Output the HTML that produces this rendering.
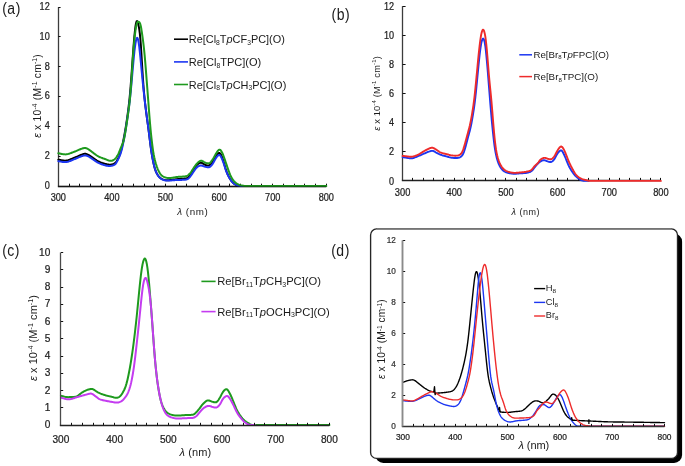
<!DOCTYPE html>
<html><head><meta charset="utf-8"><style>
html,body{margin:0;padding:0;background:#fff;}
body{width:685px;height:466px;overflow:hidden;}
svg{display:block;font-family:"Liberation Sans",sans-serif;will-change:transform;}
</style></head><body>
<svg width="685" height="466" viewBox="0 0 685 466" fill="#1a1a1a">
<text transform="translate(2.20,13.50) scale(1,1.17)" font-size="14" letter-spacing="0.5">(a)</text>
<path d="M58.50,7.20 L58.50,186.50" fill="none" stroke="#3c3c3c" stroke-width="1.3"/>
<path d="M57.85,186.50 L326.30,186.50" fill="none" stroke="#222" stroke-width="1.3"/>
<path d="M58.30,156.50 h2.30" stroke="#111" stroke-width="1"/>
<path d="M58.30,126.50 h2.30" stroke="#111" stroke-width="1"/>
<path d="M58.30,96.50 h2.30" stroke="#111" stroke-width="1"/>
<path d="M58.30,66.50 h2.30" stroke="#111" stroke-width="1"/>
<path d="M58.30,36.50 h2.30" stroke="#111" stroke-width="1"/>
<path d="M58.30,7.50 h2.30" stroke="#111" stroke-width="1"/>
<path d="M69.50,186.00 v-2.30" stroke="#111" stroke-width="1"/>
<path d="M79.50,186.00 v-2.30" stroke="#111" stroke-width="1"/>
<path d="M90.50,186.00 v-2.30" stroke="#111" stroke-width="1"/>
<path d="M101.50,186.00 v-2.30" stroke="#111" stroke-width="1"/>
<path d="M111.50,186.00 v-2.30" stroke="#111" stroke-width="1"/>
<path d="M122.50,186.00 v-2.30" stroke="#111" stroke-width="1"/>
<path d="M133.50,186.00 v-2.30" stroke="#111" stroke-width="1"/>
<path d="M144.50,186.00 v-2.30" stroke="#111" stroke-width="1"/>
<path d="M154.50,186.00 v-2.30" stroke="#111" stroke-width="1"/>
<path d="M165.50,186.00 v-2.30" stroke="#111" stroke-width="1"/>
<path d="M176.50,186.00 v-2.30" stroke="#111" stroke-width="1"/>
<path d="M186.50,186.00 v-2.30" stroke="#111" stroke-width="1"/>
<path d="M197.50,186.00 v-2.30" stroke="#111" stroke-width="1"/>
<path d="M208.50,186.00 v-2.30" stroke="#111" stroke-width="1"/>
<path d="M219.50,186.00 v-2.30" stroke="#111" stroke-width="1"/>
<path d="M229.50,186.00 v-2.30" stroke="#111" stroke-width="1"/>
<path d="M240.50,186.00 v-2.30" stroke="#111" stroke-width="1"/>
<path d="M251.50,186.00 v-2.30" stroke="#111" stroke-width="1"/>
<path d="M261.50,186.00 v-2.30" stroke="#111" stroke-width="1"/>
<path d="M272.50,186.00 v-2.30" stroke="#111" stroke-width="1"/>
<path d="M283.50,186.00 v-2.30" stroke="#111" stroke-width="1"/>
<path d="M294.50,186.00 v-2.30" stroke="#111" stroke-width="1"/>
<path d="M304.50,186.00 v-2.30" stroke="#111" stroke-width="1"/>
<path d="M315.50,186.00 v-2.30" stroke="#111" stroke-width="1"/>
<path d="M326.50,186.00 v-2.30" stroke="#111" stroke-width="1"/>
<text transform="translate(49.70,188.80) scale(1,1.100)" font-size="9.1" text-anchor="end" fill="#222" stroke="#222" stroke-width="0.22">0</text>
<text transform="translate(49.70,159.00) scale(1,1.100)" font-size="9.1" text-anchor="end" fill="#222" stroke="#222" stroke-width="0.22">2</text>
<text transform="translate(49.70,129.20) scale(1,1.100)" font-size="9.1" text-anchor="end" fill="#222" stroke="#222" stroke-width="0.22">4</text>
<text transform="translate(49.70,99.40) scale(1,1.100)" font-size="9.1" text-anchor="end" fill="#222" stroke="#222" stroke-width="0.22">6</text>
<text transform="translate(49.70,69.60) scale(1,1.100)" font-size="9.1" text-anchor="end" fill="#222" stroke="#222" stroke-width="0.22">8</text>
<text transform="translate(49.70,39.80) scale(1,1.100)" font-size="9.1" text-anchor="end" fill="#222" stroke="#222" stroke-width="0.22">10</text>
<text transform="translate(49.70,10.00) scale(1,1.100)" font-size="9.1" text-anchor="end" fill="#222" stroke="#222" stroke-width="0.22">12</text>
<text transform="translate(58.30,200.80) scale(1,1.120)" font-size="9.2" text-anchor="middle" fill="#222" stroke="#222" stroke-width="0.22">300</text>
<text transform="translate(111.90,200.80) scale(1,1.120)" font-size="9.2" text-anchor="middle" fill="#222" stroke="#222" stroke-width="0.22">400</text>
<text transform="translate(165.50,200.80) scale(1,1.120)" font-size="9.2" text-anchor="middle" fill="#222" stroke="#222" stroke-width="0.22">500</text>
<text transform="translate(219.10,200.80) scale(1,1.120)" font-size="9.2" text-anchor="middle" fill="#222" stroke="#222" stroke-width="0.22">600</text>
<text transform="translate(272.70,200.80) scale(1,1.120)" font-size="9.2" text-anchor="middle" fill="#222" stroke="#222" stroke-width="0.22">700</text>
<text transform="translate(326.30,200.80) scale(1,1.120)" font-size="9.2" text-anchor="middle" fill="#222" stroke="#222" stroke-width="0.22">800</text>
<text x="192.45" y="215.20" font-size="9.80" text-anchor="middle" textLength="30.60" lengthAdjust="spacing"><tspan font-style="italic">λ</tspan> (nm)</text>
<text transform="translate(40.70,96.00) rotate(-90)" font-size="10.30" text-anchor="middle" textLength="83.50" lengthAdjust="spacing"><tspan font-style="italic">ε</tspan> x 10<tspan dy="-3.71" font-size="6.70">-4</tspan><tspan dy="3.71"> (M</tspan><tspan dy="-3.71" font-size="6.70">-1</tspan><tspan dy="3.71"> cm</tspan><tspan dy="-3.71" font-size="6.70">-1</tspan><tspan dy="3.71">)</tspan></text>
<path d="M58.30,159.68 L58.84,159.74 L59.37,159.82 L59.91,159.92 L60.44,160.02 L60.98,160.12 L61.52,160.22 L62.05,160.32 L62.59,160.41 L63.12,160.49 L63.66,160.55 L64.20,160.60 L64.73,160.63 L65.27,160.63 L65.80,160.61 L66.34,160.56 L66.88,160.47 L67.41,160.36 L67.95,160.22 L68.48,160.06 L69.02,159.88 L69.56,159.69 L70.09,159.48 L70.63,159.26 L71.16,159.03 L71.70,158.80 L72.24,158.57 L72.77,158.35 L73.31,158.12 L73.84,157.90 L74.38,157.69 L74.92,157.48 L75.45,157.26 L75.99,157.04 L76.52,156.81 L77.06,156.57 L77.60,156.34 L78.13,156.10 L78.67,155.87 L79.20,155.65 L79.74,155.43 L80.28,155.21 L80.81,155.00 L81.35,154.79 L81.88,154.58 L82.42,154.37 L82.96,154.18 L83.49,154.01 L84.03,153.87 L84.56,153.79 L85.10,153.76 L85.64,153.81 L86.17,153.92 L86.71,154.10 L87.24,154.33 L87.78,154.59 L88.32,154.87 L88.85,155.17 L89.39,155.47 L89.92,155.80 L90.46,156.14 L91.00,156.50 L91.53,156.88 L92.07,157.28 L92.60,157.67 L93.14,158.05 L93.68,158.42 L94.21,158.79 L94.75,159.15 L95.28,159.50 L95.82,159.85 L96.36,160.19 L96.89,160.52 L97.43,160.83 L97.96,161.12 L98.50,161.39 L99.04,161.65 L99.57,161.90 L100.11,162.13 L100.64,162.36 L101.18,162.58 L101.72,162.78 L102.25,162.98 L102.79,163.16 L103.32,163.33 L103.86,163.49 L104.40,163.64 L104.93,163.79 L105.47,163.93 L106.00,164.07 L106.54,164.20 L107.08,164.33 L107.61,164.43 L108.15,164.53 L108.68,164.59 L109.22,164.64 L109.76,164.65 L110.29,164.64 L110.83,164.60 L111.36,164.53 L111.90,164.44 L112.44,164.32 L112.97,164.17 L113.51,164.00 L114.04,163.78 L114.58,163.49 L115.12,163.08 L115.65,162.52 L116.19,161.82 L116.72,161.00 L117.26,160.08 L117.80,159.09 L118.33,158.00 L118.87,156.82 L119.40,155.51 L119.94,154.07 L120.48,152.48 L121.01,150.71 L121.55,148.74 L122.08,146.55 L122.62,144.14 L123.16,141.55 L123.69,138.81 L124.23,135.94 L124.76,132.96 L125.30,129.87 L125.84,126.63 L126.37,123.22 L126.91,119.65 L127.44,115.89 L127.98,111.92 L128.52,107.71 L129.05,103.17 L129.59,98.15 L130.12,92.52 L130.66,86.17 L131.20,79.17 L131.73,71.74 L132.27,64.14 L132.80,56.61 L133.34,49.31 L133.88,42.42 L134.41,36.18 L134.95,30.79 L135.48,26.42 L136.02,23.25 L136.56,21.47 L137.09,21.14 L137.63,22.06 L138.16,23.82 L138.70,26.16 L139.24,29.11 L139.77,33.02 L140.31,38.28 L140.84,45.08 L141.38,53.23 L141.92,62.20 L142.45,71.24 L142.99,79.61 L143.52,86.93 L144.06,93.20 L144.60,98.68 L145.13,103.61 L145.67,108.17 L146.20,112.44 L146.74,116.47 L147.28,120.36 L147.81,124.21 L148.35,128.15 L148.88,132.26 L149.42,136.53 L149.96,140.86 L150.49,145.09 L151.03,149.06 L151.56,152.66 L152.10,155.90 L152.64,158.85 L153.17,161.55 L153.71,164.02 L154.24,166.25 L154.78,168.22 L155.32,169.91 L155.85,171.35 L156.39,172.58 L156.92,173.63 L157.46,174.55 L158.00,175.36 L158.53,176.06 L159.07,176.68 L159.60,177.22 L160.14,177.71 L160.68,178.15 L161.21,178.54 L161.75,178.88 L162.28,179.16 L162.82,179.39 L163.36,179.59 L163.89,179.76 L164.43,179.91 L164.96,180.04 L165.50,180.14 L166.04,180.23 L166.57,180.28 L167.11,180.30 L167.64,180.29 L168.18,180.26 L168.72,180.21 L169.25,180.14 L169.79,180.06 L170.32,179.98 L170.86,179.90 L171.40,179.82 L171.93,179.75 L172.47,179.68 L173.00,179.62 L173.54,179.56 L174.08,179.50 L174.61,179.44 L175.15,179.39 L175.68,179.33 L176.22,179.27 L176.76,179.22 L177.29,179.16 L177.83,179.11 L178.36,179.05 L178.90,179.00 L179.44,178.95 L179.97,178.91 L180.51,178.87 L181.04,178.83 L181.58,178.80 L182.12,178.76 L182.65,178.73 L183.19,178.69 L183.72,178.65 L184.26,178.60 L184.80,178.54 L185.33,178.48 L185.87,178.40 L186.40,178.30 L186.94,178.14 L187.48,177.89 L188.01,177.54 L188.55,177.08 L189.08,176.52 L189.62,175.89 L190.16,175.20 L190.69,174.47 L191.23,173.71 L191.76,172.90 L192.30,172.04 L192.84,171.14 L193.37,170.24 L193.91,169.34 L194.44,168.47 L194.98,167.61 L195.52,166.78 L196.05,166.01 L196.59,165.31 L197.12,164.71 L197.66,164.21 L198.20,163.80 L198.73,163.46 L199.27,163.17 L199.80,162.95 L200.34,162.81 L200.88,162.76 L201.41,162.82 L201.95,162.99 L202.48,163.25 L203.02,163.57 L203.56,163.91 L204.09,164.24 L204.63,164.53 L205.16,164.77 L205.70,164.97 L206.24,165.13 L206.77,165.26 L207.31,165.37 L207.84,165.45 L208.38,165.48 L208.92,165.42 L209.45,165.24 L209.99,164.92 L210.52,164.47 L211.06,163.90 L211.60,163.24 L212.13,162.53 L212.67,161.76 L213.20,160.92 L213.74,160.01 L214.28,159.03 L214.81,158.03 L215.35,157.08 L215.88,156.20 L216.42,155.43 L216.96,154.76 L217.49,154.16 L218.03,153.65 L218.56,153.26 L219.10,153.06 L219.64,153.11 L220.17,153.49 L220.71,154.20 L221.24,155.20 L221.78,156.43 L222.32,157.85 L222.85,159.44 L223.39,161.16 L223.92,162.97 L224.46,164.83 L225.00,166.68 L225.53,168.46 L226.07,170.11 L226.60,171.62 L227.14,172.99 L227.68,174.24 L228.21,175.40 L228.75,176.47 L229.28,177.46 L229.82,178.39 L230.36,179.25 L230.89,180.05 L231.43,180.79 L231.96,181.47 L232.50,182.09 L233.04,182.67 L233.57,183.20 L234.11,183.68 L234.64,184.09 L235.18,184.45 L235.72,184.75 L236.25,185.03 L236.79,185.27 L237.32,185.49 L237.86,185.67 L238.40,185.81 L238.93,185.90 L239.47,185.96 L240.00,185.99 L240.54,186.00 L241.08,186.00 L241.61,186.00 L242.15,186.00 L242.68,186.00 L243.22,186.00 L243.76,186.00 L244.29,186.00 L244.83,186.00 L245.36,186.00 L245.90,186.00 L246.44,186.00 L246.97,186.00 L247.51,186.00 L248.04,186.00 L248.58,186.00 L249.12,186.00 L249.65,186.00 L250.19,186.00 L250.72,186.00 L251.26,186.00" fill="none" stroke="#000000" stroke-width="2.0" stroke-linejoin="round" stroke-linecap="round"/>
<path d="M58.30,161.17 L58.84,161.23 L59.37,161.31 L59.91,161.41 L60.44,161.51 L60.98,161.61 L61.52,161.71 L62.05,161.81 L62.59,161.90 L63.12,161.98 L63.66,162.04 L64.20,162.09 L64.73,162.12 L65.27,162.12 L65.80,162.10 L66.34,162.05 L66.88,161.96 L67.41,161.85 L67.95,161.71 L68.48,161.55 L69.02,161.37 L69.56,161.18 L70.09,160.97 L70.63,160.75 L71.16,160.52 L71.70,160.29 L72.24,160.06 L72.77,159.84 L73.31,159.61 L73.84,159.39 L74.38,159.18 L74.92,158.96 L75.45,158.74 L75.99,158.52 L76.52,158.28 L77.06,158.05 L77.60,157.81 L78.13,157.57 L78.67,157.34 L79.20,157.12 L79.74,156.90 L80.28,156.70 L80.81,156.50 L81.35,156.31 L81.88,156.11 L82.42,155.93 L82.96,155.75 L83.49,155.60 L84.03,155.48 L84.56,155.41 L85.10,155.39 L85.64,155.43 L86.17,155.54 L86.71,155.70 L87.24,155.90 L87.78,156.14 L88.32,156.40 L88.85,156.68 L89.39,156.97 L89.92,157.28 L90.46,157.62 L91.00,157.98 L91.53,158.36 L92.07,158.76 L92.60,159.15 L93.14,159.54 L93.68,159.91 L94.21,160.28 L94.75,160.64 L95.28,160.99 L95.82,161.34 L96.36,161.68 L96.89,162.01 L97.43,162.32 L97.96,162.61 L98.50,162.88 L99.04,163.14 L99.57,163.39 L100.11,163.63 L100.64,163.85 L101.18,164.07 L101.72,164.28 L102.25,164.47 L102.79,164.66 L103.32,164.83 L103.86,164.98 L104.40,165.13 L104.93,165.27 L105.47,165.41 L106.00,165.54 L106.54,165.66 L107.08,165.77 L107.61,165.86 L108.15,165.93 L108.68,165.98 L109.22,166.00 L109.76,165.99 L110.29,165.95 L110.83,165.88 L111.36,165.80 L111.90,165.68 L112.44,165.55 L112.97,165.38 L113.51,165.20 L114.04,164.97 L114.58,164.69 L115.12,164.29 L115.65,163.73 L116.19,162.98 L116.72,162.06 L117.26,161.03 L117.80,159.94 L118.33,158.84 L118.87,157.71 L119.40,156.52 L119.94,155.22 L120.48,153.79 L121.01,152.16 L121.55,150.31 L122.08,148.22 L122.62,145.89 L123.16,143.36 L123.69,140.66 L124.23,137.83 L124.76,134.87 L125.30,131.76 L125.84,128.49 L126.37,125.07 L126.91,121.51 L127.44,117.86 L127.98,114.13 L128.52,110.30 L129.05,106.31 L129.59,102.02 L130.12,97.32 L130.66,92.13 L131.20,86.49 L131.73,80.54 L132.27,74.44 L132.80,68.33 L133.34,62.35 L133.88,56.65 L134.41,51.47 L134.95,47.01 L135.48,43.32 L136.02,40.45 L136.56,38.53 L137.09,37.74 L137.63,38.21 L138.16,39.93 L138.70,42.79 L139.24,46.68 L139.77,51.40 L140.31,56.69 L140.84,62.26 L141.38,67.91 L141.92,73.52 L142.45,79.03 L142.99,84.38 L143.52,89.54 L144.06,94.51 L144.60,99.28 L145.13,103.85 L145.67,108.22 L146.20,112.38 L146.74,116.37 L147.28,120.25 L147.81,124.13 L148.35,128.11 L148.88,132.24 L149.42,136.52 L149.96,140.86 L150.49,145.09 L151.03,149.05 L151.56,152.65 L152.10,155.89 L152.64,158.83 L153.17,161.52 L153.71,163.98 L154.24,166.21 L154.78,168.19 L155.32,169.91 L155.85,171.38 L156.39,172.66 L156.92,173.76 L157.46,174.73 L158.00,175.58 L158.53,176.32 L159.07,176.96 L159.60,177.52 L160.14,178.02 L160.68,178.46 L161.21,178.84 L161.75,179.18 L162.28,179.46 L162.82,179.69 L163.36,179.89 L163.89,180.06 L164.43,180.21 L164.96,180.34 L165.50,180.44 L166.04,180.52 L166.57,180.58 L167.11,180.61 L167.64,180.61 L168.18,180.60 L168.72,180.57 L169.25,180.54 L169.79,180.50 L170.32,180.46 L170.86,180.42 L171.40,180.38 L171.93,180.34 L172.47,180.30 L173.00,180.26 L173.54,180.22 L174.08,180.18 L174.61,180.14 L175.15,180.10 L175.68,180.07 L176.22,180.05 L176.76,180.03 L177.29,180.01 L177.83,179.99 L178.36,179.98 L178.90,179.97 L179.44,179.95 L179.97,179.94 L180.51,179.93 L181.04,179.91 L181.58,179.89 L182.12,179.86 L182.65,179.84 L183.19,179.81 L183.72,179.78 L184.26,179.74 L184.80,179.69 L185.33,179.64 L185.87,179.57 L186.40,179.48 L186.94,179.33 L187.48,179.11 L188.01,178.79 L188.55,178.36 L189.08,177.84 L189.62,177.24 L190.16,176.60 L190.69,175.92 L191.23,175.20 L191.76,174.44 L192.30,173.63 L192.84,172.79 L193.37,171.96 L193.91,171.15 L194.44,170.37 L194.98,169.62 L195.52,168.91 L196.05,168.24 L196.59,167.65 L197.12,167.15 L197.66,166.73 L198.20,166.39 L198.73,166.11 L199.27,165.87 L199.80,165.70 L200.34,165.58 L200.88,165.54 L201.41,165.58 L201.95,165.68 L202.48,165.83 L203.02,166.01 L203.56,166.22 L204.09,166.41 L204.63,166.59 L205.16,166.75 L205.70,166.88 L206.24,167.00 L206.77,167.11 L207.31,167.20 L207.84,167.26 L208.38,167.28 L208.92,167.22 L209.45,167.06 L209.99,166.78 L210.52,166.36 L211.06,165.84 L211.60,165.23 L212.13,164.56 L212.67,163.83 L213.20,163.00 L213.74,162.09 L214.28,161.09 L214.81,160.07 L215.35,159.08 L215.88,158.18 L216.42,157.37 L216.96,156.66 L217.49,156.04 L218.03,155.50 L218.56,155.09 L219.10,154.89 L219.64,154.97 L220.17,155.42 L220.71,156.20 L221.24,157.25 L221.78,158.44 L222.32,159.71 L222.85,161.05 L223.39,162.50 L223.92,164.07 L224.46,165.77 L225.00,167.52 L225.53,169.23 L226.07,170.81 L226.60,172.22 L227.14,173.48 L227.68,174.62 L228.21,175.68 L228.75,176.69 L229.28,177.66 L229.82,178.59 L230.36,179.48 L230.89,180.30 L231.43,181.06 L231.96,181.73 L232.50,182.33 L233.04,182.87 L233.57,183.35 L234.11,183.77 L234.64,184.14 L235.18,184.45 L235.72,184.71 L236.25,184.93 L236.79,185.13 L237.32,185.30 L237.86,185.45 L238.40,185.58 L238.93,185.68 L239.47,185.77 L240.00,185.85 L240.54,185.91 L241.08,185.95 L241.61,185.98 L242.15,185.99 L242.68,186.00 L243.22,186.00 L243.76,186.00 L244.29,186.00 L244.83,186.00 L245.36,186.00 L245.90,186.00 L246.44,186.00 L246.97,186.00 L247.51,186.00 L248.04,186.00 L248.58,186.00 L249.12,186.00 L249.65,186.00 L250.19,186.00 L250.72,186.00 L251.26,186.00" fill="none" stroke="#1c36f2" stroke-width="2.0" stroke-linejoin="round" stroke-linecap="round"/>
<path d="M58.30,153.29 L58.84,153.35 L59.37,153.44 L59.91,153.55 L60.44,153.67 L60.98,153.78 L61.52,153.90 L62.05,154.01 L62.59,154.11 L63.12,154.20 L63.66,154.28 L64.20,154.33 L64.73,154.37 L65.27,154.38 L65.80,154.36 L66.34,154.31 L66.88,154.24 L67.41,154.14 L67.95,154.02 L68.48,153.88 L69.02,153.72 L69.56,153.55 L70.09,153.36 L70.63,153.16 L71.16,152.96 L71.70,152.75 L72.24,152.54 L72.77,152.34 L73.31,152.13 L73.84,151.93 L74.38,151.73 L74.92,151.52 L75.45,151.31 L75.99,151.08 L76.52,150.85 L77.06,150.61 L77.60,150.37 L78.13,150.14 L78.67,149.90 L79.20,149.67 L79.74,149.46 L80.28,149.25 L80.81,149.05 L81.35,148.86 L81.88,148.67 L82.42,148.48 L82.96,148.30 L83.49,148.15 L84.03,148.04 L84.56,147.97 L85.10,147.96 L85.64,148.02 L86.17,148.16 L86.71,148.37 L87.24,148.63 L87.78,148.94 L88.32,149.26 L88.85,149.61 L89.39,149.96 L89.92,150.32 L90.46,150.70 L91.00,151.10 L91.53,151.52 L92.07,151.95 L92.60,152.38 L93.14,152.80 L93.68,153.21 L94.21,153.61 L94.75,154.01 L95.28,154.40 L95.82,154.79 L96.36,155.16 L96.89,155.52 L97.43,155.86 L97.96,156.18 L98.50,156.47 L99.04,156.74 L99.57,156.98 L100.11,157.22 L100.64,157.44 L101.18,157.65 L101.72,157.86 L102.25,158.05 L102.79,158.25 L103.32,158.43 L103.86,158.62 L104.40,158.81 L104.93,159.00 L105.47,159.20 L106.00,159.40 L106.54,159.62 L107.08,159.85 L107.61,160.07 L108.15,160.29 L108.68,160.48 L109.22,160.65 L109.76,160.78 L110.29,160.86 L110.83,160.87 L111.36,160.82 L111.90,160.70 L112.44,160.51 L112.97,160.27 L113.51,159.96 L114.04,159.62 L114.58,159.22 L115.12,158.76 L115.65,158.20 L116.19,157.54 L116.72,156.76 L117.26,155.87 L117.80,154.89 L118.33,153.82 L118.87,152.65 L119.40,151.38 L119.94,150.05 L120.48,148.70 L121.01,147.40 L121.55,146.16 L122.08,144.93 L122.62,143.63 L123.16,142.12 L123.69,140.29 L124.23,138.05 L124.76,135.37 L125.30,132.32 L125.84,129.02 L126.37,125.55 L126.91,122.01 L127.44,118.39 L127.98,114.65 L128.52,110.72 L129.05,106.52 L129.59,101.91 L130.12,96.74 L130.66,90.74 L131.20,83.72 L131.73,75.73 L132.27,67.25 L132.80,58.99 L133.34,51.53 L133.88,45.07 L134.41,39.49 L134.95,34.64 L135.48,30.45 L136.02,26.99 L136.56,24.41 L137.09,22.76 L137.63,21.96 L138.16,21.74 L138.70,21.84 L139.24,22.15 L139.77,22.81 L140.31,24.12 L140.84,26.30 L141.38,29.29 L141.92,32.77 L142.45,36.49 L142.99,40.39 L143.52,44.62 L144.06,49.37 L144.60,54.79 L145.13,60.85 L145.67,67.40 L146.20,74.20 L146.74,81.08 L147.28,88.01 L147.81,94.99 L148.35,102.04 L148.88,109.12 L149.42,116.06 L149.96,122.64 L150.49,128.66 L151.03,134.07 L151.56,138.96 L152.10,143.47 L152.64,147.61 L153.17,151.32 L153.71,154.53 L154.24,157.25 L154.78,159.59 L155.32,161.64 L155.85,163.50 L156.39,165.22 L156.92,166.80 L157.46,168.26 L158.00,169.58 L158.53,170.76 L159.07,171.81 L159.60,172.74 L160.14,173.58 L160.68,174.31 L161.21,174.93 L161.75,175.45 L162.28,175.89 L162.82,176.26 L163.36,176.58 L163.89,176.86 L164.43,177.10 L164.96,177.30 L165.50,177.48 L166.04,177.63 L166.57,177.77 L167.11,177.88 L167.64,177.97 L168.18,178.03 L168.72,178.06 L169.25,178.06 L169.79,178.04 L170.32,177.99 L170.86,177.94 L171.40,177.87 L171.93,177.80 L172.47,177.73 L173.00,177.65 L173.54,177.56 L174.08,177.47 L174.61,177.37 L175.15,177.26 L175.68,177.16 L176.22,177.07 L176.76,176.99 L177.29,176.93 L177.83,176.88 L178.36,176.84 L178.90,176.81 L179.44,176.78 L179.97,176.76 L180.51,176.73 L181.04,176.71 L181.58,176.68 L182.12,176.64 L182.65,176.61 L183.19,176.57 L183.72,176.52 L184.26,176.47 L184.80,176.40 L185.33,176.33 L185.87,176.23 L186.40,176.08 L186.94,175.88 L187.48,175.61 L188.01,175.25 L188.55,174.83 L189.08,174.36 L189.62,173.82 L190.16,173.23 L190.69,172.56 L191.23,171.81 L191.76,171.00 L192.30,170.15 L192.84,169.29 L193.37,168.46 L193.91,167.64 L194.44,166.85 L194.98,166.07 L195.52,165.33 L196.05,164.63 L196.59,163.99 L197.12,163.41 L197.66,162.86 L198.20,162.35 L198.73,161.88 L199.27,161.46 L199.80,161.11 L200.34,160.86 L200.88,160.72 L201.41,160.72 L201.95,160.84 L202.48,161.06 L203.02,161.35 L203.56,161.68 L204.09,162.00 L204.63,162.30 L205.16,162.55 L205.70,162.76 L206.24,162.94 L206.77,163.10 L207.31,163.24 L207.84,163.33 L208.38,163.37 L208.92,163.31 L209.45,163.12 L209.99,162.78 L210.52,162.28 L211.06,161.66 L211.60,160.96 L212.13,160.21 L212.67,159.41 L213.20,158.57 L213.74,157.67 L214.28,156.71 L214.81,155.73 L215.35,154.77 L215.88,153.84 L216.42,152.97 L216.96,152.14 L217.49,151.37 L218.03,150.66 L218.56,150.10 L219.10,149.74 L219.64,149.64 L220.17,149.84 L220.71,150.32 L221.24,151.03 L221.78,151.93 L222.32,153.00 L222.85,154.22 L223.39,155.58 L223.92,157.03 L224.46,158.55 L225.00,160.12 L225.53,161.72 L226.07,163.33 L226.60,164.93 L227.14,166.51 L227.68,168.06 L228.21,169.57 L228.75,171.03 L229.28,172.44 L229.82,173.78 L230.36,175.05 L230.89,176.21 L231.43,177.26 L231.96,178.21 L232.50,179.06 L233.04,179.83 L233.57,180.53 L234.11,181.16 L234.64,181.73 L235.18,182.25 L235.72,182.72 L236.25,183.15 L236.79,183.53 L237.32,183.87 L237.86,184.17 L238.40,184.43 L238.93,184.68 L239.47,184.89 L240.00,185.08 L240.54,185.24 L241.08,185.38 L241.61,185.49 L242.15,185.59 L242.68,185.69 L243.22,185.77 L243.76,185.84 L244.29,185.90 L244.83,185.94 L245.36,185.97 L245.90,185.99 L246.44,186.00 L246.97,186.00 L247.51,186.00 L248.04,186.00 L248.58,186.00 L249.12,186.00 L249.65,186.00 L250.19,186.00 L250.72,186.00 L251.26,186.00 L251.80,186.00 L252.33,186.00 L252.87,186.00 L253.40,186.00 L253.94,186.00 L254.48,186.00 L255.01,186.00 L255.55,186.00 L256.08,186.00 L256.62,186.00 L257.16,186.00 L257.69,186.00 L258.23,186.00 L258.76,186.00 L259.30,186.00 L259.84,186.00 L260.37,186.00 L260.91,186.00 L261.44,186.00 L261.98,186.00 L262.52,186.00 L263.05,186.00 L263.59,186.00 L264.12,186.00 L264.66,186.00 L265.20,186.00 L265.73,186.00 L266.27,186.00 L266.80,186.00 L267.34,186.00 L267.88,186.00 L268.41,186.00 L268.95,186.00 L269.48,186.00 L270.02,186.00 L270.56,186.00 L271.09,186.00 L271.63,186.00 L272.16,186.00 L272.70,186.00 L273.24,186.00 L273.77,186.00 L274.31,186.00 L274.84,186.00 L275.38,186.00 L275.92,186.00 L276.45,186.00 L276.99,186.00 L277.52,186.00 L278.06,186.00 L278.60,186.00 L279.13,186.00 L279.67,186.00 L280.20,186.00 L280.74,186.00 L281.28,186.00 L281.81,186.00 L282.35,186.00 L282.88,186.00 L283.42,186.00 L283.96,186.00 L284.49,186.00 L285.03,186.00 L285.56,186.00 L286.10,186.00 L286.64,186.00 L287.17,186.00 L287.71,186.00 L288.24,186.00 L288.78,186.00 L289.32,186.00 L289.85,186.00 L290.39,186.00 L290.92,186.00 L291.46,186.00 L292.00,186.00 L292.53,186.00 L293.07,186.00 L293.60,186.00 L294.14,186.00 L294.68,186.00 L295.21,186.00 L295.75,186.00 L296.28,186.00 L296.82,186.00 L297.36,186.00 L297.89,186.00 L298.43,186.00 L298.96,186.00 L299.50,186.00 L300.04,186.00 L300.57,186.00 L301.11,186.00 L301.64,186.00 L302.18,186.00 L302.72,186.00 L303.25,186.00 L303.79,186.00 L304.32,186.00 L304.86,186.00 L305.40,186.00 L305.93,186.00 L306.47,186.00 L307.00,186.00 L307.54,186.00 L308.08,186.00 L308.61,186.00 L309.15,186.00 L309.68,186.00 L310.22,186.00 L310.76,186.00 L311.29,186.00 L311.83,186.00 L312.36,186.00 L312.90,186.00 L313.44,186.00 L313.97,186.00 L314.51,186.00 L315.04,186.00 L315.58,186.00 L316.12,186.00 L316.65,186.00 L317.19,186.00 L317.72,186.00 L318.26,186.00 L318.80,186.00 L319.33,186.00 L319.87,186.00 L320.40,186.00 L320.94,186.00 L321.48,186.00 L322.01,186.00 L322.55,186.00 L323.08,186.00 L323.62,186.00 L324.16,186.00 L324.69,186.00 L325.23,186.00 L325.76,186.00 L326.30,186.00" fill="none" stroke="#1e9a1e" stroke-width="2.0" stroke-linejoin="round" stroke-linecap="round"/>
<path d="M58.30,186.50 H326.30" stroke="rgba(0,0,0,0.35)" stroke-width="1.3"/>
<path d="M174.0,39.20 H188.0" stroke="#000000" stroke-width="1.6"/><text x="188.8" y="42.90" font-size="10.3" textLength="96.10" lengthAdjust="spacingAndGlyphs"><tspan>Re[Cl</tspan><tspan font-size="6.39" dy="1.85">8</tspan><tspan dy="-1.85">T</tspan><tspan font-style="italic">p</tspan><tspan>CF</tspan><tspan font-size="6.39" dy="1.85">3</tspan><tspan dy="-1.85">PC](O)</tspan></text>
<path d="M174.0,61.90 H188.0" stroke="#1c36f2" stroke-width="1.6"/><text x="188.8" y="65.80" font-size="10.3" textLength="72.50" lengthAdjust="spacingAndGlyphs"><tspan>Re[Cl</tspan><tspan font-size="6.39" dy="1.85">8</tspan><tspan dy="-1.85">TPC](O)</tspan></text>
<path d="M174.0,84.50 H188.0" stroke="#1e9a1e" stroke-width="1.6"/><text x="188.8" y="88.60" font-size="10.3" textLength="97.50" lengthAdjust="spacingAndGlyphs"><tspan>Re[Cl</tspan><tspan font-size="6.39" dy="1.85">8</tspan><tspan dy="-1.85">T</tspan><tspan font-style="italic">p</tspan><tspan>CH</tspan><tspan font-size="6.39" dy="1.85">3</tspan><tspan dy="-1.85">PC](O)</tspan></text>
<text transform="translate(331.60,20.00) scale(1,1.17)" font-size="14" letter-spacing="0.5">(b)</text>
<path d="M402.50,6.20 L402.50,180.50" fill="none" stroke="#3c3c3c" stroke-width="1.3"/>
<path d="M401.85,180.50 L660.90,180.50" fill="none" stroke="#222" stroke-width="1.3"/>
<path d="M402.60,151.50 h3.00" stroke="#111" stroke-width="1"/>
<path d="M402.60,122.50 h3.00" stroke="#111" stroke-width="1"/>
<path d="M402.60,93.50 h3.00" stroke="#111" stroke-width="1"/>
<path d="M402.60,64.50 h3.00" stroke="#111" stroke-width="1"/>
<path d="M402.60,35.50 h3.00" stroke="#111" stroke-width="1"/>
<path d="M402.60,6.50 h3.00" stroke="#111" stroke-width="1"/>
<path d="M412.50,180.90 v-3.00" stroke="#111" stroke-width="1"/>
<path d="M423.50,180.90 v-3.00" stroke="#111" stroke-width="1"/>
<path d="M433.50,180.90 v-3.00" stroke="#111" stroke-width="1"/>
<path d="M443.50,180.90 v-3.00" stroke="#111" stroke-width="1"/>
<path d="M454.50,180.90 v-3.00" stroke="#111" stroke-width="1"/>
<path d="M464.50,180.90 v-3.00" stroke="#111" stroke-width="1"/>
<path d="M474.50,180.90 v-3.00" stroke="#111" stroke-width="1"/>
<path d="M485.50,180.90 v-3.00" stroke="#111" stroke-width="1"/>
<path d="M495.50,180.90 v-3.00" stroke="#111" stroke-width="1"/>
<path d="M505.50,180.90 v-3.00" stroke="#111" stroke-width="1"/>
<path d="M516.50,180.90 v-3.00" stroke="#111" stroke-width="1"/>
<path d="M526.50,180.90 v-3.00" stroke="#111" stroke-width="1"/>
<path d="M536.50,180.90 v-3.00" stroke="#111" stroke-width="1"/>
<path d="M547.50,180.90 v-3.00" stroke="#111" stroke-width="1"/>
<path d="M557.50,180.90 v-3.00" stroke="#111" stroke-width="1"/>
<path d="M567.50,180.90 v-3.00" stroke="#111" stroke-width="1"/>
<path d="M578.50,180.90 v-3.00" stroke="#111" stroke-width="1"/>
<path d="M588.50,180.90 v-3.00" stroke="#111" stroke-width="1"/>
<path d="M598.50,180.90 v-3.00" stroke="#111" stroke-width="1"/>
<path d="M609.50,180.90 v-3.00" stroke="#111" stroke-width="1"/>
<path d="M619.50,180.90 v-3.00" stroke="#111" stroke-width="1"/>
<path d="M629.50,180.90 v-3.00" stroke="#111" stroke-width="1"/>
<path d="M640.50,180.90 v-3.00" stroke="#111" stroke-width="1"/>
<path d="M650.50,180.90 v-3.00" stroke="#111" stroke-width="1"/>
<path d="M660.50,180.90 v-3.00" stroke="#111" stroke-width="1"/>
<text transform="translate(394.10,184.60) scale(1,1.100)" font-size="9.1" text-anchor="end" fill="#222" stroke="#222" stroke-width="0.22">0</text>
<text transform="translate(394.10,155.48) scale(1,1.100)" font-size="9.1" text-anchor="end" fill="#222" stroke="#222" stroke-width="0.22">2</text>
<text transform="translate(394.10,126.37) scale(1,1.100)" font-size="9.1" text-anchor="end" fill="#222" stroke="#222" stroke-width="0.22">4</text>
<text transform="translate(394.10,97.25) scale(1,1.100)" font-size="9.1" text-anchor="end" fill="#222" stroke="#222" stroke-width="0.22">6</text>
<text transform="translate(394.10,68.13) scale(1,1.100)" font-size="9.1" text-anchor="end" fill="#222" stroke="#222" stroke-width="0.22">8</text>
<text transform="translate(394.10,39.02) scale(1,1.100)" font-size="9.1" text-anchor="end" fill="#222" stroke="#222" stroke-width="0.22">10</text>
<text transform="translate(394.10,9.90) scale(1,1.100)" font-size="9.1" text-anchor="end" fill="#222" stroke="#222" stroke-width="0.22">12</text>
<text transform="translate(402.60,195.70) scale(1,1.100)" font-size="9.3" text-anchor="middle" fill="#222" stroke="#222" stroke-width="0.22">300</text>
<text transform="translate(454.26,195.70) scale(1,1.100)" font-size="9.3" text-anchor="middle" fill="#222" stroke="#222" stroke-width="0.22">400</text>
<text transform="translate(505.92,195.70) scale(1,1.100)" font-size="9.3" text-anchor="middle" fill="#222" stroke="#222" stroke-width="0.22">500</text>
<text transform="translate(557.58,195.70) scale(1,1.100)" font-size="9.3" text-anchor="middle" fill="#222" stroke="#222" stroke-width="0.22">600</text>
<text transform="translate(609.24,195.70) scale(1,1.100)" font-size="9.3" text-anchor="middle" fill="#222" stroke="#222" stroke-width="0.22">700</text>
<text transform="translate(660.90,195.70) scale(1,1.100)" font-size="9.3" text-anchor="middle" fill="#222" stroke="#222" stroke-width="0.22">800</text>
<text x="525.50" y="214.60" font-size="9.00" text-anchor="middle" textLength="28.10" lengthAdjust="spacing"><tspan font-style="italic">λ</tspan> (nm)</text>
<text transform="translate(379.50,93.50) rotate(-90)" font-size="9.30" text-anchor="middle" textLength="74.70" lengthAdjust="spacing"><tspan font-style="italic">ε</tspan> x 10<tspan dy="-3.35" font-size="6.05">-4</tspan><tspan dy="3.35"> (M</tspan><tspan dy="-3.35" font-size="6.05">-1</tspan><tspan dy="3.35"> cm</tspan><tspan dy="-3.35" font-size="6.05">-1</tspan><tspan dy="3.35">)</tspan></text>
<path d="M402.60,157.22 L403.12,157.27 L403.63,157.33 L404.15,157.41 L404.67,157.50 L405.18,157.58 L405.70,157.67 L406.22,157.76 L406.73,157.85 L407.25,157.93 L407.77,158.01 L408.28,158.09 L408.80,158.15 L409.32,158.21 L409.83,158.25 L410.35,158.29 L410.87,158.30 L411.38,158.30 L411.90,158.26 L412.42,158.20 L412.93,158.10 L413.45,157.97 L413.97,157.81 L414.48,157.63 L415.00,157.43 L415.52,157.22 L416.03,157.01 L416.55,156.79 L417.06,156.57 L417.58,156.36 L418.10,156.15 L418.61,155.95 L419.13,155.74 L419.65,155.53 L420.16,155.31 L420.68,155.09 L421.20,154.87 L421.71,154.64 L422.23,154.41 L422.75,154.19 L423.26,153.96 L423.78,153.74 L424.30,153.51 L424.81,153.27 L425.33,153.04 L425.85,152.81 L426.36,152.58 L426.88,152.37 L427.40,152.16 L427.91,151.97 L428.43,151.79 L428.95,151.62 L429.46,151.45 L429.98,151.29 L430.50,151.14 L431.01,151.01 L431.53,150.92 L432.05,150.86 L432.56,150.87 L433.08,150.95 L433.60,151.12 L434.11,151.36 L434.63,151.65 L435.15,151.97 L435.66,152.30 L436.18,152.62 L436.70,152.91 L437.21,153.18 L437.73,153.44 L438.25,153.68 L438.76,153.92 L439.28,154.15 L439.80,154.37 L440.31,154.58 L440.83,154.78 L441.35,154.97 L441.86,155.15 L442.38,155.31 L442.89,155.47 L443.41,155.62 L443.93,155.76 L444.44,155.90 L444.96,156.04 L445.48,156.18 L445.99,156.31 L446.51,156.45 L447.03,156.59 L447.54,156.73 L448.06,156.88 L448.58,157.02 L449.09,157.17 L449.61,157.31 L450.13,157.44 L450.64,157.56 L451.16,157.67 L451.68,157.76 L452.19,157.83 L452.71,157.88 L453.23,157.92 L453.74,157.96 L454.26,157.98 L454.78,158.00 L455.29,158.02 L455.81,158.03 L456.33,158.02 L456.84,158.00 L457.36,157.96 L457.88,157.90 L458.39,157.81 L458.91,157.69 L459.43,157.52 L459.94,157.29 L460.46,157.00 L460.98,156.64 L461.49,156.19 L462.01,155.64 L462.53,154.94 L463.04,154.05 L463.56,152.92 L464.08,151.57 L464.59,150.01 L465.11,148.31 L465.63,146.49 L466.14,144.57 L466.66,142.59 L467.18,140.57 L467.69,138.57 L468.21,136.61 L468.72,134.70 L469.24,132.81 L469.76,130.89 L470.27,128.85 L470.79,126.62 L471.31,124.13 L471.82,121.38 L472.34,118.43 L472.86,115.33 L473.37,112.12 L473.89,108.74 L474.41,105.12 L474.92,101.13 L475.44,96.70 L475.96,91.84 L476.47,86.68 L476.99,81.36 L477.51,76.00 L478.02,70.65 L478.54,65.36 L479.06,60.24 L479.57,55.44 L480.09,51.10 L480.61,47.30 L481.12,44.12 L481.64,41.63 L482.16,39.87 L482.67,38.85 L483.19,38.59 L483.71,39.10 L484.22,40.42 L484.74,42.60 L485.26,45.73 L485.77,49.84 L486.29,54.80 L486.81,60.34 L487.32,66.27 L487.84,72.45 L488.36,78.83 L488.87,85.36 L489.39,91.94 L489.91,98.47 L490.42,104.84 L490.94,110.99 L491.46,116.89 L491.97,122.54 L492.49,127.91 L493.00,132.97 L493.52,137.71 L494.04,142.09 L494.55,146.06 L495.07,149.56 L495.59,152.57 L496.10,155.15 L496.62,157.38 L497.14,159.31 L497.65,161.00 L498.17,162.48 L498.69,163.77 L499.20,164.92 L499.72,165.96 L500.24,166.90 L500.75,167.74 L501.27,168.49 L501.79,169.15 L502.30,169.74 L502.82,170.25 L503.34,170.71 L503.85,171.12 L504.37,171.47 L504.89,171.77 L505.40,172.02 L505.92,172.25 L506.44,172.45 L506.95,172.62 L507.47,172.77 L507.99,172.91 L508.50,173.02 L509.02,173.13 L509.54,173.23 L510.05,173.32 L510.57,173.41 L511.09,173.49 L511.60,173.56 L512.12,173.62 L512.64,173.68 L513.15,173.71 L513.67,173.74 L514.19,173.75 L514.70,173.75 L515.22,173.73 L515.74,173.71 L516.25,173.68 L516.77,173.64 L517.29,173.60 L517.80,173.55 L518.32,173.51 L518.84,173.46 L519.35,173.42 L519.87,173.37 L520.38,173.33 L520.90,173.30 L521.42,173.27 L521.93,173.24 L522.45,173.21 L522.97,173.18 L523.48,173.15 L524.00,173.11 L524.52,173.08 L525.03,173.04 L525.55,172.99 L526.07,172.94 L526.58,172.87 L527.10,172.79 L527.62,172.68 L528.13,172.55 L528.65,172.40 L529.17,172.22 L529.68,172.02 L530.20,171.79 L530.72,171.53 L531.23,171.23 L531.75,170.87 L532.27,170.41 L532.78,169.85 L533.30,169.21 L533.82,168.51 L534.33,167.81 L534.85,167.11 L535.37,166.44 L535.88,165.79 L536.40,165.17 L536.92,164.57 L537.43,164.01 L537.95,163.48 L538.47,163.00 L538.98,162.56 L539.50,162.15 L540.02,161.77 L540.53,161.44 L541.05,161.13 L541.57,160.86 L542.08,160.62 L542.60,160.42 L543.12,160.28 L543.63,160.21 L544.15,160.22 L544.66,160.30 L545.18,160.45 L545.70,160.64 L546.21,160.84 L546.73,161.04 L547.25,161.23 L547.76,161.40 L548.28,161.56 L548.80,161.72 L549.31,161.85 L549.83,161.95 L550.35,162.00 L550.86,161.97 L551.38,161.83 L551.90,161.59 L552.41,161.23 L552.93,160.78 L553.45,160.25 L553.96,159.63 L554.48,158.89 L555.00,158.03 L555.51,157.06 L556.03,156.06 L556.55,155.07 L557.06,154.17 L557.58,153.38 L558.10,152.68 L558.61,152.06 L559.13,151.50 L559.65,151.02 L560.16,150.65 L560.68,150.43 L561.20,150.42 L561.71,150.68 L562.23,151.23 L562.75,152.01 L563.26,152.96 L563.78,154.01 L564.30,155.12 L564.81,156.28 L565.33,157.50 L565.85,158.76 L566.36,160.04 L566.88,161.32 L567.40,162.61 L567.91,163.87 L568.43,165.08 L568.95,166.19 L569.46,167.21 L569.98,168.15 L570.50,169.03 L571.01,169.86 L571.53,170.66 L572.04,171.45 L572.56,172.23 L573.08,172.98 L573.59,173.71 L574.11,174.38 L574.63,175.01 L575.14,175.58 L575.66,176.11 L576.18,176.61 L576.69,177.07 L577.21,177.50 L577.73,177.91 L578.24,178.30 L578.76,178.66 L579.28,179.00 L579.79,179.31 L580.31,179.60 L580.83,179.86 L581.34,180.10 L581.86,180.32 L582.38,180.51 L582.89,180.67 L583.41,180.78 L583.93,180.85 L584.44,180.88 L584.96,180.90 L585.48,180.90 L585.99,180.90 L586.51,180.90 L587.03,180.90 L587.54,180.90 L588.06,180.90 L588.58,180.90" fill="none" stroke="#1c36f2" stroke-width="1.9" stroke-linejoin="round" stroke-linecap="round"/>
<path d="M402.60,155.90 L403.12,155.93 L403.63,155.98 L404.15,156.04 L404.67,156.10 L405.18,156.17 L405.70,156.24 L406.22,156.30 L406.73,156.37 L407.25,156.43 L407.77,156.49 L408.28,156.55 L408.80,156.60 L409.32,156.64 L409.83,156.67 L410.35,156.70 L410.87,156.71 L411.38,156.70 L411.90,156.67 L412.42,156.62 L412.93,156.53 L413.45,156.42 L413.97,156.28 L414.48,156.12 L415.00,155.95 L415.52,155.75 L416.03,155.55 L416.55,155.34 L417.06,155.13 L417.58,154.90 L418.10,154.67 L418.61,154.43 L419.13,154.16 L419.65,153.86 L420.16,153.55 L420.68,153.23 L421.20,152.90 L421.71,152.57 L422.23,152.25 L422.75,151.94 L423.26,151.64 L423.78,151.34 L424.30,151.04 L424.81,150.74 L425.33,150.45 L425.85,150.17 L426.36,149.89 L426.88,149.62 L427.40,149.36 L427.91,149.11 L428.43,148.87 L428.95,148.63 L429.46,148.39 L429.98,148.17 L430.50,147.97 L431.01,147.81 L431.53,147.71 L432.05,147.68 L432.56,147.73 L433.08,147.87 L433.60,148.07 L434.11,148.33 L434.63,148.63 L435.15,148.95 L435.66,149.28 L436.18,149.61 L436.70,149.95 L437.21,150.31 L437.73,150.68 L438.25,151.05 L438.76,151.41 L439.28,151.75 L439.80,152.05 L440.31,152.31 L440.83,152.53 L441.35,152.73 L441.86,152.90 L442.38,153.06 L442.89,153.21 L443.41,153.35 L443.93,153.48 L444.44,153.61 L444.96,153.73 L445.48,153.86 L445.99,153.99 L446.51,154.12 L447.03,154.26 L447.54,154.40 L448.06,154.54 L448.58,154.69 L449.09,154.83 L449.61,154.97 L450.13,155.10 L450.64,155.22 L451.16,155.33 L451.68,155.42 L452.19,155.49 L452.71,155.55 L453.23,155.60 L453.74,155.63 L454.26,155.66 L454.78,155.68 L455.29,155.69 L455.81,155.69 L456.33,155.67 L456.84,155.63 L457.36,155.57 L457.88,155.48 L458.39,155.36 L458.91,155.19 L459.43,154.96 L459.94,154.66 L460.46,154.26 L460.98,153.75 L461.49,153.08 L462.01,152.23 L462.53,151.16 L463.04,149.86 L463.56,148.36 L464.08,146.72 L464.59,144.98 L465.11,143.17 L465.63,141.29 L466.14,139.37 L466.66,137.44 L467.18,135.52 L467.69,133.63 L468.21,131.75 L468.72,129.87 L469.24,127.91 L469.76,125.82 L470.27,123.53 L470.79,121.01 L471.31,118.26 L471.82,115.33 L472.34,112.25 L472.86,109.00 L473.37,105.54 L473.89,101.74 L474.41,97.54 L474.92,92.90 L475.44,87.88 L475.96,82.61 L476.47,77.20 L476.99,71.74 L477.51,66.26 L478.02,60.83 L478.54,55.57 L479.06,50.59 L479.57,45.99 L480.09,41.80 L480.61,38.10 L481.12,35.02 L481.64,32.62 L482.16,30.94 L482.67,29.96 L483.19,29.70 L483.71,30.18 L484.22,31.42 L484.74,33.43 L485.26,36.23 L485.77,39.86 L486.29,44.30 L486.81,49.53 L487.32,55.47 L487.84,61.90 L488.36,68.41 L488.87,74.61 L489.39,80.29 L489.91,85.54 L490.42,90.61 L490.94,95.79 L491.46,101.31 L491.97,107.26 L492.49,113.56 L493.00,119.98 L493.52,126.23 L494.04,132.10 L494.55,137.47 L495.07,142.27 L495.59,146.45 L496.10,149.97 L496.62,152.87 L497.14,155.25 L497.65,157.25 L498.17,158.98 L498.69,160.48 L499.20,161.83 L499.72,163.05 L500.24,164.17 L500.75,165.19 L501.27,166.13 L501.79,166.95 L502.30,167.68 L502.82,168.29 L503.34,168.82 L503.85,169.28 L504.37,169.68 L504.89,170.06 L505.40,170.40 L505.92,170.71 L506.44,171.00 L506.95,171.25 L507.47,171.48 L507.99,171.68 L508.50,171.86 L509.02,172.01 L509.54,172.15 L510.05,172.28 L510.57,172.40 L511.09,172.51 L511.60,172.61 L512.12,172.70 L512.64,172.77 L513.15,172.82 L513.67,172.86 L514.19,172.87 L514.70,172.87 L515.22,172.86 L515.74,172.84 L516.25,172.81 L516.77,172.78 L517.29,172.74 L517.80,172.70 L518.32,172.65 L518.84,172.60 L519.35,172.55 L519.87,172.50 L520.38,172.46 L520.90,172.41 L521.42,172.36 L521.93,172.31 L522.45,172.25 L522.97,172.20 L523.48,172.14 L524.00,172.07 L524.52,172.00 L525.03,171.93 L525.55,171.84 L526.07,171.76 L526.58,171.66 L527.10,171.55 L527.62,171.43 L528.13,171.30 L528.65,171.15 L529.17,170.98 L529.68,170.80 L530.20,170.58 L530.72,170.32 L531.23,170.01 L531.75,169.60 L532.27,169.07 L532.78,168.45 L533.30,167.77 L533.82,167.09 L534.33,166.46 L534.85,165.90 L535.37,165.40 L535.88,164.92 L536.40,164.46 L536.92,163.98 L537.43,163.46 L537.95,162.88 L538.47,162.23 L538.98,161.54 L539.50,160.85 L540.02,160.20 L540.53,159.65 L541.05,159.20 L541.57,158.84 L542.08,158.55 L542.60,158.31 L543.12,158.11 L543.63,157.97 L544.15,157.88 L544.66,157.86 L545.18,157.91 L545.70,158.03 L546.21,158.20 L546.73,158.38 L547.25,158.57 L547.76,158.74 L548.28,158.89 L548.80,159.02 L549.31,159.13 L549.83,159.21 L550.35,159.24 L550.86,159.20 L551.38,159.05 L551.90,158.78 L552.41,158.40 L552.93,157.93 L553.45,157.38 L553.96,156.74 L554.48,156.00 L555.00,155.15 L555.51,154.21 L556.03,153.21 L556.55,152.23 L557.06,151.28 L557.58,150.41 L558.10,149.59 L558.61,148.82 L559.13,148.09 L559.65,147.45 L560.16,146.93 L560.68,146.59 L561.20,146.48 L561.71,146.63 L562.23,147.04 L562.75,147.68 L563.26,148.49 L563.78,149.42 L564.30,150.43 L564.81,151.53 L565.33,152.73 L565.85,154.01 L566.36,155.34 L566.88,156.68 L567.40,157.99 L567.91,159.28 L568.43,160.54 L568.95,161.76 L569.46,162.95 L569.98,164.08 L570.50,165.16 L571.01,166.20 L571.53,167.20 L572.04,168.16 L572.56,169.12 L573.08,170.06 L573.59,170.99 L574.11,171.89 L574.63,172.75 L575.14,173.53 L575.66,174.24 L576.18,174.87 L576.69,175.44 L577.21,175.95 L577.73,176.42 L578.24,176.84 L578.76,177.22 L579.28,177.57 L579.79,177.89 L580.31,178.19 L580.83,178.46 L581.34,178.71 L581.86,178.93 L582.38,179.12 L582.89,179.29 L583.41,179.45 L583.93,179.58 L584.44,179.71 L584.96,179.84 L585.48,179.96 L585.99,180.09 L586.51,180.23 L587.03,180.38 L587.54,180.52 L588.06,180.64 L588.58,180.75 L589.09,180.82 L589.61,180.87 L590.13,180.89 L590.64,180.90 L591.16,180.90 L591.68,180.90 L592.19,180.90 L592.71,180.90 L593.23,180.90 L593.74,180.90 L594.26,180.90 L594.78,180.90 L595.29,180.90 L595.81,180.90 L596.33,180.90 L596.84,180.90 L597.36,180.90 L597.87,180.90 L598.39,180.90 L598.91,180.90 L599.42,180.90 L599.94,180.90 L600.46,180.90 L600.97,180.90 L601.49,180.90 L602.01,180.90 L602.52,180.90 L603.04,180.90 L603.56,180.90 L604.07,180.90 L604.59,180.90 L605.11,180.90 L605.62,180.90 L606.14,180.90 L606.66,180.90 L607.17,180.90 L607.69,180.90 L608.21,180.90 L608.72,180.90 L609.24,180.90 L609.76,180.90 L610.27,180.90 L610.79,180.90 L611.31,180.90 L611.82,180.90 L612.34,180.90 L612.86,180.90 L613.37,180.90 L613.89,180.90 L614.41,180.90 L614.92,180.90 L615.44,180.90 L615.96,180.90 L616.47,180.90 L616.99,180.90 L617.51,180.90 L618.02,180.90 L618.54,180.90 L619.06,180.90 L619.57,180.90 L620.09,180.90 L620.61,180.90 L621.12,180.90 L621.64,180.90 L622.15,180.90 L622.67,180.90 L623.19,180.90 L623.70,180.90 L624.22,180.90 L624.74,180.90 L625.25,180.90 L625.77,180.90 L626.29,180.90 L626.80,180.90 L627.32,180.90 L627.84,180.90 L628.35,180.90 L628.87,180.90 L629.39,180.90 L629.90,180.90 L630.42,180.90 L630.94,180.90 L631.45,180.90 L631.97,180.90 L632.49,180.90 L633.00,180.90 L633.52,180.90 L634.04,180.90 L634.55,180.90 L635.07,180.90 L635.59,180.90 L636.10,180.90 L636.62,180.90 L637.14,180.90 L637.65,180.90 L638.17,180.90 L638.69,180.90 L639.20,180.90 L639.72,180.90 L640.24,180.90 L640.75,180.90 L641.27,180.90 L641.79,180.90 L642.30,180.90 L642.82,180.90 L643.34,180.90 L643.85,180.90 L644.37,180.90 L644.89,180.90 L645.40,180.90 L645.92,180.90 L646.44,180.90 L646.95,180.90 L647.47,180.90 L647.99,180.90 L648.50,180.90 L649.02,180.90 L649.53,180.90 L650.05,180.90 L650.57,180.90 L651.08,180.90 L651.60,180.90 L652.12,180.90 L652.63,180.90 L653.15,180.90 L653.67,180.90 L654.18,180.90 L654.70,180.90 L655.22,180.90 L655.73,180.90 L656.25,180.90 L656.77,180.90 L657.28,180.90 L657.80,180.90 L658.32,180.90 L658.83,180.90 L659.35,180.90 L659.87,180.90 L660.38,180.90 L660.90,180.90" fill="none" stroke="#ee2b2b" stroke-width="1.9" stroke-linejoin="round" stroke-linecap="round"/>
<path d="M519.3,54.80 H532.0" stroke="#1c36f2" stroke-width="1.5"/><text x="533.4" y="57.60" font-size="9.6" textLength="75.60" lengthAdjust="spacingAndGlyphs"><tspan>Re[Br</tspan><tspan font-size="5.95" dy="1.73">8</tspan><tspan dy="-1.73">T</tspan><tspan font-style="italic">p</tspan><tspan>FPC](O)</tspan></text>
<path d="M519.3,76.60 H532.0" stroke="#ee2b2b" stroke-width="1.5"/><text x="533.4" y="80.00" font-size="9.6" textLength="64.80" lengthAdjust="spacingAndGlyphs"><tspan>Re[Br</tspan><tspan font-size="5.95" dy="1.73">8</tspan><tspan dy="-1.73">TPC](O)</tspan></text>
<text transform="translate(2.20,255.60) scale(1,1.17)" font-size="14" letter-spacing="0.5">(c)</text>
<text transform="translate(50.30,428.10) scale(1,1.000)" font-size="10.1" text-anchor="end" fill="#222" stroke="#222" stroke-width="0.22">0</text>
<text transform="translate(50.30,410.84) scale(1,1.000)" font-size="10.1" text-anchor="end" fill="#222" stroke="#222" stroke-width="0.22">1</text>
<text transform="translate(50.30,393.58) scale(1,1.000)" font-size="10.1" text-anchor="end" fill="#222" stroke="#222" stroke-width="0.22">2</text>
<text transform="translate(50.30,376.32) scale(1,1.000)" font-size="10.1" text-anchor="end" fill="#222" stroke="#222" stroke-width="0.22">3</text>
<text transform="translate(50.30,359.06) scale(1,1.000)" font-size="10.1" text-anchor="end" fill="#222" stroke="#222" stroke-width="0.22">4</text>
<text transform="translate(50.30,341.80) scale(1,1.000)" font-size="10.1" text-anchor="end" fill="#222" stroke="#222" stroke-width="0.22">5</text>
<text transform="translate(50.30,324.54) scale(1,1.000)" font-size="10.1" text-anchor="end" fill="#222" stroke="#222" stroke-width="0.22">6</text>
<text transform="translate(50.30,307.28) scale(1,1.000)" font-size="10.1" text-anchor="end" fill="#222" stroke="#222" stroke-width="0.22">7</text>
<text transform="translate(50.30,290.02) scale(1,1.000)" font-size="10.1" text-anchor="end" fill="#222" stroke="#222" stroke-width="0.22">8</text>
<text transform="translate(50.30,272.76) scale(1,1.000)" font-size="10.1" text-anchor="end" fill="#222" stroke="#222" stroke-width="0.22">9</text>
<text transform="translate(50.30,255.50) scale(1,1.000)" font-size="10.1" text-anchor="end" fill="#222" stroke="#222" stroke-width="0.22">10</text>
<text transform="translate(60.90,442.90) scale(1,1.000)" font-size="10.1" text-anchor="middle" fill="#222" stroke="#222" stroke-width="0.22">300</text>
<text transform="translate(114.60,442.90) scale(1,1.000)" font-size="10.1" text-anchor="middle" fill="#222" stroke="#222" stroke-width="0.22">400</text>
<text transform="translate(168.30,442.90) scale(1,1.000)" font-size="10.1" text-anchor="middle" fill="#222" stroke="#222" stroke-width="0.22">500</text>
<text transform="translate(222.00,442.90) scale(1,1.000)" font-size="10.1" text-anchor="middle" fill="#222" stroke="#222" stroke-width="0.22">600</text>
<text transform="translate(275.70,442.90) scale(1,1.000)" font-size="10.1" text-anchor="middle" fill="#222" stroke="#222" stroke-width="0.22">700</text>
<text transform="translate(329.40,442.90) scale(1,1.000)" font-size="10.1" text-anchor="middle" fill="#222" stroke="#222" stroke-width="0.22">800</text>
<text x="195.35" y="456.20" font-size="11.00" text-anchor="middle" textLength="31.80" lengthAdjust="spacing"><tspan font-style="italic">λ</tspan> (nm)</text>
<text transform="translate(36.80,338.00) rotate(-90)" font-size="11.00" text-anchor="middle" textLength="86.00" lengthAdjust="spacing"><tspan font-style="italic">ε</tspan> x 10<tspan dy="-3.96" font-size="7.15">-4</tspan><tspan dy="3.96"> (M</tspan><tspan dy="-3.96" font-size="7.15">-1</tspan><tspan dy="3.96"> cm</tspan><tspan dy="-3.96" font-size="7.15">-1</tspan><tspan dy="3.96">)</tspan></text>
<path d="M60.90,395.84 L61.44,395.93 L61.97,396.04 L62.51,396.18 L63.05,396.32 L63.59,396.47 L64.12,396.61 L64.66,396.74 L65.20,396.86 L65.73,396.96 L66.27,397.03 L66.81,397.09 L67.34,397.11 L67.88,397.13 L68.42,397.13 L68.95,397.12 L69.49,397.11 L70.03,397.09 L70.57,397.08 L71.10,397.06 L71.64,397.03 L72.18,397.01 L72.71,396.98 L73.25,396.95 L73.79,396.91 L74.33,396.87 L74.86,396.81 L75.40,396.73 L75.94,396.61 L76.47,396.43 L77.01,396.19 L77.55,395.88 L78.08,395.53 L78.62,395.14 L79.16,394.72 L79.69,394.29 L80.23,393.86 L80.77,393.44 L81.31,393.04 L81.84,392.68 L82.38,392.34 L82.92,392.02 L83.45,391.71 L83.99,391.42 L84.53,391.13 L85.06,390.85 L85.60,390.59 L86.14,390.34 L86.68,390.12 L87.21,389.92 L87.75,389.74 L88.29,389.57 L88.82,389.42 L89.36,389.28 L89.90,389.16 L90.44,389.05 L90.97,388.98 L91.51,388.94 L92.05,388.97 L92.58,389.08 L93.12,389.27 L93.66,389.56 L94.19,389.91 L94.73,390.29 L95.27,390.68 L95.81,391.05 L96.34,391.40 L96.88,391.71 L97.42,392.01 L97.95,392.29 L98.49,392.56 L99.03,392.83 L99.56,393.09 L100.10,393.34 L100.64,393.58 L101.17,393.80 L101.71,394.02 L102.25,394.22 L102.79,394.42 L103.32,394.61 L103.86,394.79 L104.40,394.97 L104.93,395.14 L105.47,395.30 L106.01,395.46 L106.55,395.61 L107.08,395.75 L107.62,395.89 L108.16,396.01 L108.69,396.14 L109.23,396.26 L109.77,396.37 L110.30,396.49 L110.84,396.60 L111.38,396.72 L111.91,396.85 L112.45,396.99 L112.99,397.15 L113.53,397.31 L114.06,397.47 L114.60,397.61 L115.14,397.71 L115.67,397.76 L116.21,397.76 L116.75,397.73 L117.28,397.65 L117.82,397.54 L118.36,397.36 L118.90,397.11 L119.43,396.74 L119.97,396.28 L120.51,395.73 L121.04,395.11 L121.58,394.42 L122.12,393.65 L122.66,392.79 L123.19,391.85 L123.73,390.83 L124.27,389.73 L124.80,388.51 L125.34,387.15 L125.88,385.61 L126.41,383.86 L126.95,381.88 L127.49,379.69 L128.03,377.29 L128.56,374.73 L129.10,372.03 L129.64,369.20 L130.17,366.22 L130.71,363.08 L131.25,359.76 L131.78,356.26 L132.32,352.59 L132.86,348.78 L133.40,344.81 L133.93,340.67 L134.47,336.36 L135.01,331.86 L135.54,327.18 L136.08,322.30 L136.62,317.24 L137.15,312.00 L137.69,306.61 L138.23,301.12 L138.76,295.59 L139.30,290.10 L139.84,284.78 L140.38,279.77 L140.91,275.16 L141.45,271.03 L141.99,267.46 L142.52,264.51 L143.06,262.14 L143.60,260.32 L144.13,259.08 L144.67,258.50 L145.21,258.69 L145.75,259.67 L146.28,261.43 L146.82,263.96 L147.36,267.31 L147.89,271.49 L148.43,276.44 L148.97,282.06 L149.50,288.21 L150.04,294.73 L150.58,301.45 L151.12,308.26 L151.65,315.19 L152.19,322.29 L152.73,329.62 L153.26,337.10 L153.80,344.50 L154.34,351.55 L154.88,358.08 L155.41,364.03 L155.95,369.45 L156.49,374.37 L157.02,378.80 L157.56,382.81 L158.10,386.48 L158.63,389.85 L159.17,392.95 L159.71,395.75 L160.25,398.25 L160.78,400.43 L161.32,402.30 L161.86,403.91 L162.39,405.31 L162.93,406.53 L163.47,407.62 L164.00,408.61 L164.54,409.50 L165.08,410.31 L165.62,411.04 L166.15,411.67 L166.69,412.22 L167.23,412.67 L167.76,413.07 L168.30,413.41 L168.84,413.70 L169.37,413.96 L169.91,414.20 L170.45,414.40 L170.98,414.58 L171.52,414.75 L172.06,414.90 L172.60,415.03 L173.13,415.15 L173.67,415.25 L174.21,415.34 L174.74,415.41 L175.28,415.48 L175.82,415.53 L176.35,415.57 L176.89,415.59 L177.43,415.59 L177.97,415.58 L178.50,415.56 L179.04,415.54 L179.58,415.51 L180.11,415.48 L180.65,415.44 L181.19,415.40 L181.72,415.36 L182.26,415.32 L182.80,415.28 L183.34,415.23 L183.87,415.19 L184.41,415.16 L184.95,415.12 L185.48,415.09 L186.02,415.07 L186.56,415.05 L187.09,415.03 L187.63,415.01 L188.17,414.99 L188.71,414.98 L189.24,414.96 L189.78,414.94 L190.32,414.92 L190.85,414.90 L191.39,414.87 L191.93,414.83 L192.47,414.77 L193.00,414.67 L193.54,414.49 L194.08,414.21 L194.61,413.83 L195.15,413.37 L195.69,412.85 L196.22,412.30 L196.76,411.74 L197.30,411.15 L197.84,410.53 L198.37,409.89 L198.91,409.22 L199.45,408.53 L199.98,407.82 L200.52,407.10 L201.06,406.37 L201.59,405.65 L202.13,404.96 L202.67,404.33 L203.21,403.74 L203.74,403.20 L204.28,402.68 L204.82,402.19 L205.35,401.72 L205.89,401.30 L206.43,400.94 L206.96,400.66 L207.50,400.47 L208.04,400.39 L208.58,400.41 L209.11,400.52 L209.65,400.69 L210.19,400.90 L210.72,401.12 L211.26,401.34 L211.80,401.54 L212.33,401.72 L212.87,401.88 L213.41,402.03 L213.94,402.17 L214.48,402.28 L215.02,402.35 L215.56,402.35 L216.09,402.24 L216.63,401.98 L217.17,401.55 L217.70,400.96 L218.24,400.24 L218.78,399.44 L219.31,398.58 L219.85,397.68 L220.39,396.73 L220.93,395.72 L221.46,394.67 L222.00,393.63 L222.54,392.68 L223.07,391.84 L223.61,391.12 L224.15,390.51 L224.69,389.98 L225.22,389.56 L225.76,389.28 L226.30,389.18 L226.83,389.31 L227.37,389.68 L227.91,390.28 L228.44,391.06 L228.98,391.96 L229.52,392.92 L230.06,393.95 L230.59,395.04 L231.13,396.21 L231.67,397.44 L232.20,398.71 L232.74,400.02 L233.28,401.33 L233.81,402.66 L234.35,404.00 L234.89,405.34 L235.43,406.66 L235.96,407.92 L236.50,409.10 L237.04,410.20 L237.57,411.22 L238.11,412.18 L238.65,413.08 L239.18,413.94 L239.72,414.76 L240.26,415.54 L240.80,416.29 L241.33,417.00 L241.87,417.69 L242.41,418.35 L242.94,418.96 L243.48,419.53 L244.02,420.06 L244.55,420.54 L245.09,420.99 L245.63,421.40 L246.16,421.78 L246.70,422.14 L247.24,422.48 L247.78,422.81 L248.31,423.14 L248.85,423.47 L249.39,423.79 L249.92,424.09 L250.46,424.37 L251.00,424.61 L251.53,424.81 L252.07,424.95 L252.61,425.03 L253.15,425.08 L253.68,425.09 L254.22,425.10 L254.76,425.10 L255.29,425.10 L255.83,425.10 L256.37,425.10 L256.90,425.10 L257.44,425.10 L257.98,425.10 L258.52,425.10 L259.05,425.10 L259.59,425.10 L260.13,425.10 L260.66,425.10 L261.20,425.10 L261.74,425.10 L262.27,425.10 L262.81,425.10 L263.35,425.10 L263.89,425.10 L264.42,425.10 L264.96,425.10 L265.50,425.10 L266.03,425.10 L266.57,425.10 L267.11,425.10 L267.64,425.10 L268.18,425.10 L268.72,425.10 L269.26,425.10 L269.79,425.10 L270.33,425.10 L270.87,425.10 L271.40,425.10 L271.94,425.10 L272.48,425.10 L273.01,425.10 L273.55,425.10 L274.09,425.10 L274.63,425.10 L275.16,425.10 L275.70,425.10 L276.24,425.10 L276.77,425.10 L277.31,425.10 L277.85,425.10 L278.38,425.10 L278.92,425.10 L279.46,425.10 L280.00,425.10 L280.53,425.10 L281.07,425.10 L281.61,425.10 L282.14,425.10 L282.68,425.10 L283.22,425.10 L283.75,425.10 L284.29,425.10 L284.83,425.10 L285.37,425.10 L285.90,425.10 L286.44,425.10 L286.98,425.10 L287.51,425.10 L288.05,425.10 L288.59,425.10 L289.12,425.10 L289.66,425.10 L290.20,425.10 L290.74,425.10 L291.27,425.10 L291.81,425.10 L292.35,425.10 L292.88,425.10 L293.42,425.10 L293.96,425.10 L294.50,425.10 L295.03,425.10 L295.57,425.10 L296.11,425.10 L296.64,425.10 L297.18,425.10 L297.72,425.10 L298.25,425.10 L298.79,425.10 L299.33,425.10 L299.87,425.10 L300.40,425.10 L300.94,425.10 L301.48,425.10 L302.01,425.10 L302.55,425.10 L303.09,425.10 L303.62,425.10 L304.16,425.10 L304.70,425.10 L305.24,425.10 L305.77,425.10 L306.31,425.10 L306.85,425.10 L307.38,425.10 L307.92,425.10 L308.46,425.10 L308.99,425.10 L309.53,425.10 L310.07,425.10 L310.61,425.10 L311.14,425.10 L311.68,425.10 L312.22,425.10 L312.75,425.10 L313.29,425.10 L313.83,425.10 L314.36,425.10 L314.90,425.10 L315.44,425.10 L315.97,425.10 L316.51,425.10 L317.05,425.10 L317.59,425.10 L318.12,425.10 L318.66,425.10 L319.20,425.10 L319.73,425.10 L320.27,425.10 L320.81,425.10 L321.34,425.10 L321.88,425.10 L322.42,425.10 L322.96,425.10 L323.49,425.10 L324.03,425.10 L324.57,425.10 L325.10,425.10 L325.64,425.10 L326.18,425.10 L326.71,425.10 L327.25,425.10 L327.79,425.10 L328.33,425.10 L328.86,425.10 L329.40,425.10" fill="none" stroke="#1e9a1e" stroke-width="2.0" stroke-linejoin="round" stroke-linecap="round"/>
<path d="M60.90,397.74 L61.44,397.83 L61.97,397.96 L62.51,398.10 L63.05,398.25 L63.59,398.41 L64.12,398.57 L64.66,398.72 L65.20,398.87 L65.73,399.00 L66.27,399.12 L66.81,399.21 L67.34,399.28 L67.88,399.33 L68.42,399.34 L68.95,399.33 L69.49,399.28 L70.03,399.21 L70.57,399.11 L71.10,398.99 L71.64,398.86 L72.18,398.70 L72.71,398.54 L73.25,398.36 L73.79,398.18 L74.33,398.00 L74.86,397.82 L75.40,397.64 L75.94,397.47 L76.47,397.30 L77.01,397.15 L77.55,396.99 L78.08,396.84 L78.62,396.69 L79.16,396.54 L79.69,396.38 L80.23,396.23 L80.77,396.07 L81.31,395.92 L81.84,395.77 L82.38,395.62 L82.92,395.47 L83.45,395.32 L83.99,395.18 L84.53,395.03 L85.06,394.89 L85.60,394.74 L86.14,394.59 L86.68,394.44 L87.21,394.28 L87.75,394.13 L88.29,393.98 L88.82,393.85 L89.36,393.74 L89.90,393.65 L90.44,393.61 L90.97,393.61 L91.51,393.70 L92.05,393.87 L92.58,394.13 L93.12,394.47 L93.66,394.86 L94.19,395.27 L94.73,395.69 L95.27,396.10 L95.81,396.50 L96.34,396.91 L96.88,397.33 L97.42,397.75 L97.95,398.15 L98.49,398.53 L99.03,398.86 L99.56,399.15 L100.10,399.39 L100.64,399.59 L101.17,399.76 L101.71,399.91 L102.25,400.05 L102.79,400.18 L103.32,400.30 L103.86,400.41 L104.40,400.52 L104.93,400.62 L105.47,400.73 L106.01,400.83 L106.55,400.94 L107.08,401.04 L107.62,401.15 L108.16,401.25 L108.69,401.35 L109.23,401.45 L109.77,401.55 L110.30,401.64 L110.84,401.74 L111.38,401.83 L111.91,401.92 L112.45,402.01 L112.99,402.11 L113.53,402.21 L114.06,402.31 L114.60,402.40 L115.14,402.48 L115.67,402.55 L116.21,402.60 L116.75,402.61 L117.28,402.59 L117.82,402.53 L118.36,402.43 L118.90,402.29 L119.43,402.12 L119.97,401.92 L120.51,401.69 L121.04,401.40 L121.58,401.07 L122.12,400.68 L122.66,400.23 L123.19,399.71 L123.73,399.12 L124.27,398.49 L124.80,397.83 L125.34,397.14 L125.88,396.41 L126.41,395.62 L126.95,394.74 L127.49,393.72 L128.03,392.57 L128.56,391.27 L129.10,389.82 L129.64,388.21 L130.17,386.41 L130.71,384.40 L131.25,382.13 L131.78,379.59 L132.32,376.79 L132.86,373.73 L133.40,370.40 L133.93,366.78 L134.47,362.83 L135.01,358.55 L135.54,354.01 L136.08,349.32 L136.62,344.56 L137.15,339.76 L137.69,334.91 L138.23,329.97 L138.76,324.89 L139.30,319.64 L139.84,314.26 L140.38,308.84 L140.91,303.48 L141.45,298.30 L141.99,293.42 L142.52,289.04 L143.06,285.37 L143.60,282.47 L144.13,280.30 L144.67,278.80 L145.21,277.97 L145.75,277.90 L146.28,278.60 L146.82,280.00 L147.36,281.91 L147.89,284.22 L148.43,286.88 L148.97,289.93 L149.50,293.46 L150.04,297.59 L150.58,302.48 L151.12,308.22 L151.65,314.77 L152.19,321.92 L152.73,329.42 L153.26,337.02 L153.80,344.48 L154.34,351.55 L154.88,358.08 L155.41,364.03 L155.95,369.45 L156.49,374.36 L157.02,378.77 L157.56,382.75 L158.10,386.36 L158.63,389.67 L159.17,392.72 L159.71,395.52 L160.25,398.07 L160.78,400.39 L161.32,402.49 L161.86,404.39 L162.39,406.10 L162.93,407.65 L163.47,409.03 L164.00,410.27 L164.54,411.38 L165.08,412.36 L165.62,413.23 L166.15,413.97 L166.69,414.60 L167.23,415.12 L167.76,415.55 L168.30,415.92 L168.84,416.25 L169.37,416.53 L169.91,416.78 L170.45,417.01 L170.98,417.22 L171.52,417.41 L172.06,417.58 L172.60,417.74 L173.13,417.88 L173.67,418.02 L174.21,418.14 L174.74,418.26 L175.28,418.36 L175.82,418.44 L176.35,418.49 L176.89,418.52 L177.43,418.53 L177.97,418.52 L178.50,418.51 L179.04,418.50 L179.58,418.48 L180.11,418.46 L180.65,418.43 L181.19,418.41 L181.72,418.38 L182.26,418.35 L182.80,418.33 L183.34,418.30 L183.87,418.27 L184.41,418.25 L184.95,418.22 L185.48,418.20 L186.02,418.18 L186.56,418.16 L187.09,418.14 L187.63,418.12 L188.17,418.11 L188.71,418.09 L189.24,418.07 L189.78,418.05 L190.32,418.03 L190.85,418.01 L191.39,417.98 L191.93,417.94 L192.47,417.89 L193.00,417.81 L193.54,417.69 L194.08,417.51 L194.61,417.26 L195.15,416.95 L195.69,416.59 L196.22,416.17 L196.76,415.68 L197.30,415.13 L197.84,414.52 L198.37,413.88 L198.91,413.23 L199.45,412.58 L199.98,411.94 L200.52,411.29 L201.06,410.65 L201.59,410.03 L202.13,409.45 L202.67,408.91 L203.21,408.43 L203.74,408.02 L204.28,407.65 L204.82,407.31 L205.35,407.00 L205.89,406.72 L206.43,406.46 L206.96,406.24 L207.50,406.06 L208.04,405.94 L208.58,405.88 L209.11,405.89 L209.65,405.97 L210.19,406.11 L210.72,406.30 L211.26,406.51 L211.80,406.71 L212.33,406.89 L212.87,407.05 L213.41,407.19 L213.94,407.32 L214.48,407.43 L215.02,407.52 L215.56,407.56 L216.09,407.54 L216.63,407.43 L217.17,407.20 L217.70,406.84 L218.24,406.37 L218.78,405.81 L219.31,405.17 L219.85,404.45 L220.39,403.61 L220.93,402.66 L221.46,401.62 L222.00,400.57 L222.54,399.61 L223.07,398.78 L223.61,398.11 L224.15,397.56 L224.69,397.09 L225.22,396.68 L225.76,396.36 L226.30,396.12 L226.83,396.00 L227.37,396.04 L227.91,396.28 L228.44,396.73 L228.98,397.35 L229.52,398.11 L230.06,398.95 L230.59,399.83 L231.13,400.74 L231.67,401.70 L232.20,402.70 L232.74,403.75 L233.28,404.84 L233.81,405.94 L234.35,407.07 L234.89,408.21 L235.43,409.36 L235.96,410.49 L236.50,411.58 L237.04,412.60 L237.57,413.54 L238.11,414.39 L238.65,415.19 L239.18,415.93 L239.72,416.64 L240.26,417.33 L240.80,417.99 L241.33,418.64 L241.87,419.27 L242.41,419.87 L242.94,420.44 L243.48,420.97 L244.02,421.47 L244.55,421.93 L245.09,422.36 L245.63,422.77 L246.16,423.16 L246.70,423.51 L247.24,423.82 L247.78,424.09 L248.31,424.31 L248.85,424.49 L249.39,424.64 L249.92,424.77 L250.46,424.88 L251.00,424.97 L251.53,425.03 L252.07,425.07 L252.61,425.09 L253.15,425.10 L253.68,425.10 L254.22,425.10 L254.76,425.10" fill="none" stroke="#c43cf0" stroke-width="2.0" stroke-linejoin="round" stroke-linecap="round"/>
<path d="M60.50,252.50 L60.50,425.50" fill="none" stroke="#4a4a4a" stroke-width="1.3"/>
<path d="M59.85,425.50 L329.40,425.50" fill="none" stroke="#222" stroke-width="1.3"/>
<path d="M60.90,407.50 h2.30" stroke="#111" stroke-width="1"/>
<path d="M60.90,390.50 h2.30" stroke="#111" stroke-width="1"/>
<path d="M60.90,373.50 h2.30" stroke="#111" stroke-width="1"/>
<path d="M60.90,356.50 h2.30" stroke="#111" stroke-width="1"/>
<path d="M60.90,338.50 h2.30" stroke="#111" stroke-width="1"/>
<path d="M60.90,321.50 h2.30" stroke="#111" stroke-width="1"/>
<path d="M60.90,304.50 h2.30" stroke="#111" stroke-width="1"/>
<path d="M60.90,287.50 h2.30" stroke="#111" stroke-width="1"/>
<path d="M60.90,269.50 h2.30" stroke="#111" stroke-width="1"/>
<path d="M60.90,252.50 h2.30" stroke="#111" stroke-width="1"/>
<path d="M71.50,425.10 v-2.30" stroke="#111" stroke-width="1"/>
<path d="M82.50,425.10 v-2.30" stroke="#111" stroke-width="1"/>
<path d="M93.50,425.10 v-2.30" stroke="#111" stroke-width="1"/>
<path d="M103.50,425.10 v-2.30" stroke="#111" stroke-width="1"/>
<path d="M114.50,425.10 v-2.30" stroke="#111" stroke-width="1"/>
<path d="M125.50,425.10 v-2.30" stroke="#111" stroke-width="1"/>
<path d="M136.50,425.10 v-2.30" stroke="#111" stroke-width="1"/>
<path d="M146.50,425.10 v-2.30" stroke="#111" stroke-width="1"/>
<path d="M157.50,425.10 v-2.30" stroke="#111" stroke-width="1"/>
<path d="M168.50,425.10 v-2.30" stroke="#111" stroke-width="1"/>
<path d="M179.50,425.10 v-2.30" stroke="#111" stroke-width="1"/>
<path d="M189.50,425.10 v-2.30" stroke="#111" stroke-width="1"/>
<path d="M200.50,425.10 v-2.30" stroke="#111" stroke-width="1"/>
<path d="M211.50,425.10 v-2.30" stroke="#111" stroke-width="1"/>
<path d="M222.50,425.10 v-2.30" stroke="#111" stroke-width="1"/>
<path d="M232.50,425.10 v-2.30" stroke="#111" stroke-width="1"/>
<path d="M243.50,425.10 v-2.30" stroke="#111" stroke-width="1"/>
<path d="M254.50,425.10 v-2.30" stroke="#111" stroke-width="1"/>
<path d="M264.50,425.10 v-2.30" stroke="#111" stroke-width="1"/>
<path d="M275.50,425.10 v-2.30" stroke="#111" stroke-width="1"/>
<path d="M286.50,425.10 v-2.30" stroke="#111" stroke-width="1"/>
<path d="M297.50,425.10 v-2.30" stroke="#111" stroke-width="1"/>
<path d="M307.50,425.10 v-2.30" stroke="#111" stroke-width="1"/>
<path d="M318.50,425.10 v-2.30" stroke="#111" stroke-width="1"/>
<path d="M329.50,425.10 v-2.30" stroke="#111" stroke-width="1"/>
<path d="M201.4,281.40 H215.6" stroke="#1e9a1e" stroke-width="1.6"/><text x="217.2" y="285.30" font-size="10.5" textLength="103.80" lengthAdjust="spacingAndGlyphs"><tspan>Re[Br</tspan><tspan font-size="6.51" dy="1.89">11</tspan><tspan dy="-1.89">T</tspan><tspan font-style="italic">p</tspan><tspan>CH</tspan><tspan font-size="6.51" dy="1.89">3</tspan><tspan dy="-1.89">PC](O)</tspan></text>
<path d="M201.4,311.60 H215.6" stroke="#c43cf0" stroke-width="1.6"/><text x="217.2" y="315.50" font-size="10.5" textLength="112.50" lengthAdjust="spacingAndGlyphs"><tspan>Re[Br</tspan><tspan font-size="6.51" dy="1.89">11</tspan><tspan dy="-1.89">T</tspan><tspan font-style="italic">p</tspan><tspan>OCH</tspan><tspan font-size="6.51" dy="1.89">3</tspan><tspan dy="-1.89">PC](O)</tspan></text>
<text transform="translate(331.20,255.80) scale(1,1.17)" font-size="14" letter-spacing="0.5">(d)</text>
<rect x="375.3" y="233.6" width="306.8" height="229.3" rx="8" fill="#000"/>
<rect x="370.6" y="228.9" width="306.9" height="229.5" rx="6" fill="#fff" stroke="#262626" stroke-width="1.35"/>
<path d="M377,228.9 H671.5" stroke="#7c7c7c" stroke-width="1.35"/>
<text transform="translate(395.90,429.10) scale(1,1.000)" font-size="8.2" text-anchor="end" fill="#333" stroke="#333" stroke-width="0.22">0</text>
<text transform="translate(395.90,398.13) scale(1,1.000)" font-size="8.2" text-anchor="end" fill="#333" stroke="#333" stroke-width="0.22">2</text>
<text transform="translate(395.90,367.17) scale(1,1.000)" font-size="8.2" text-anchor="end" fill="#333" stroke="#333" stroke-width="0.22">4</text>
<text transform="translate(395.90,336.20) scale(1,1.000)" font-size="8.2" text-anchor="end" fill="#333" stroke="#333" stroke-width="0.22">6</text>
<text transform="translate(395.90,305.23) scale(1,1.000)" font-size="8.2" text-anchor="end" fill="#333" stroke="#333" stroke-width="0.22">8</text>
<text transform="translate(395.90,274.27) scale(1,1.000)" font-size="8.2" text-anchor="end" fill="#333" stroke="#333" stroke-width="0.22">10</text>
<text transform="translate(395.90,243.30) scale(1,1.000)" font-size="8.2" text-anchor="end" fill="#333" stroke="#333" stroke-width="0.22">12</text>
<text transform="translate(402.90,439.60) scale(1,1.000)" font-size="8.4" text-anchor="middle" fill="#222" stroke="#222" stroke-width="0.22">300</text>
<text transform="translate(455.22,439.60) scale(1,1.000)" font-size="8.4" text-anchor="middle" fill="#222" stroke="#222" stroke-width="0.22">400</text>
<text transform="translate(507.54,439.60) scale(1,1.000)" font-size="8.4" text-anchor="middle" fill="#222" stroke="#222" stroke-width="0.22">500</text>
<text transform="translate(559.86,439.60) scale(1,1.000)" font-size="8.4" text-anchor="middle" fill="#222" stroke="#222" stroke-width="0.22">600</text>
<text transform="translate(612.18,439.60) scale(1,1.000)" font-size="8.4" text-anchor="middle" fill="#222" stroke="#222" stroke-width="0.22">700</text>
<text transform="translate(664.50,439.60) scale(1,1.000)" font-size="8.4" text-anchor="middle" fill="#222" stroke="#222" stroke-width="0.22">800</text>
<text x="533.90" y="449.20" font-size="11.00" text-anchor="middle" textLength="30.70" lengthAdjust="spacing"><tspan font-style="italic">λ</tspan> (nm)</text>
<text transform="translate(385.30,339.20) rotate(-90)" font-size="10.20" text-anchor="middle" textLength="79.50" lengthAdjust="spacing"><tspan font-style="italic">ε</tspan> x 10<tspan dy="-3.67" font-size="6.63">-4</tspan><tspan dy="3.67"> (M</tspan><tspan dy="-3.67" font-size="6.63">-1</tspan><tspan dy="3.67"> cm</tspan><tspan dy="-3.67" font-size="6.63">-1</tspan><tspan dy="3.67">)</tspan></text>
<path d="M402.90,382.25 L403.42,382.12 L403.95,381.95 L404.47,381.76 L404.99,381.56 L405.52,381.36 L406.04,381.17 L406.56,381.00 L407.09,380.85 L407.61,380.70 L408.13,380.56 L408.66,380.43 L409.18,380.30 L409.70,380.18 L410.22,380.07 L410.75,379.97 L411.27,379.90 L411.79,379.84 L412.32,379.81 L412.84,379.83 L413.36,379.91 L413.89,380.06 L414.41,380.29 L414.93,380.58 L415.46,380.93 L415.98,381.32 L416.50,381.75 L417.03,382.19 L417.55,382.64 L418.07,383.08 L418.60,383.51 L419.12,383.92 L419.64,384.32 L420.17,384.72 L420.69,385.13 L421.21,385.54 L421.74,385.96 L422.26,386.37 L422.78,386.77 L423.30,387.17 L423.83,387.55 L424.35,387.90 L424.87,388.25 L425.40,388.57 L425.92,388.89 L426.44,389.20 L426.97,389.50 L427.49,389.79 L428.01,390.06 L428.54,390.32 L429.06,390.57 L429.58,390.79 L430.11,390.99 L430.63,391.17 L431.15,391.33 L431.68,391.46 L432.20,391.59 L432.72,391.72 L433.25,391.88 L433.77,392.10 L434.29,392.36 L434.82,392.64 L435.34,392.89 L435.86,393.05 L436.38,393.13 L436.91,393.14 L437.43,393.11 L437.95,393.07 L438.48,393.03 L439.00,392.99 L439.52,392.95 L440.05,392.91 L440.57,392.87 L441.09,392.83 L441.62,392.79 L442.14,392.74 L442.66,392.70 L443.19,392.65 L443.71,392.60 L444.23,392.55 L444.76,392.49 L445.28,392.43 L445.80,392.37 L446.33,392.31 L446.85,392.24 L447.37,392.17 L447.90,392.09 L448.42,392.01 L448.94,391.92 L449.46,391.81 L449.99,391.70 L450.51,391.57 L451.03,391.42 L451.56,391.24 L452.08,391.03 L452.60,390.78 L453.13,390.45 L453.65,390.03 L454.17,389.51 L454.70,388.89 L455.22,388.18 L455.74,387.40 L456.27,386.55 L456.79,385.61 L457.31,384.60 L457.84,383.49 L458.36,382.30 L458.88,381.00 L459.41,379.61 L459.93,378.11 L460.45,376.50 L460.98,374.80 L461.50,373.01 L462.02,371.14 L462.54,369.20 L463.07,367.17 L463.59,365.04 L464.11,362.81 L464.64,360.46 L465.16,357.97 L465.68,355.30 L466.21,352.40 L466.73,349.21 L467.25,345.69 L467.78,341.82 L468.30,337.59 L468.82,333.02 L469.35,328.15 L469.87,323.06 L470.39,317.86 L470.92,312.62 L471.44,307.39 L471.96,302.20 L472.49,297.08 L473.01,292.07 L473.53,287.25 L474.06,282.73 L474.58,278.71 L475.10,275.37 L475.62,272.94 L476.15,271.64 L476.67,271.58 L477.19,272.71 L477.72,274.85 L478.24,277.87 L478.76,281.70 L479.29,286.28 L479.81,291.51 L480.33,297.27 L480.86,303.38 L481.38,309.60 L481.90,315.69 L482.43,321.52 L482.95,327.05 L483.47,332.34 L484.00,337.45 L484.52,342.49 L485.04,347.60 L485.57,352.80 L486.09,358.02 L486.61,363.11 L487.14,367.87 L487.66,372.14 L488.18,375.81 L488.70,378.89 L489.23,381.48 L489.75,383.75 L490.27,385.88 L490.80,387.92 L491.32,389.89 L491.84,391.76 L492.37,393.51 L492.89,395.15 L493.41,396.69 L493.94,398.14 L494.46,399.52 L494.98,400.86 L495.51,402.16 L496.03,403.42 L496.55,404.66 L497.08,405.87 L497.60,407.08 L498.12,408.27 L498.65,409.40 L499.17,410.35 L499.69,411.07 L500.22,411.53 L500.74,411.81 L501.26,411.99 L501.78,412.10 L502.31,412.19 L502.83,412.25 L503.35,412.29 L503.88,412.32 L504.40,412.34 L504.92,412.36 L505.45,412.38 L505.97,412.40 L506.49,412.41 L507.02,412.41 L507.54,412.41 L508.06,412.40 L508.59,412.38 L509.11,412.35 L509.63,412.30 L510.16,412.25 L510.68,412.20 L511.20,412.13 L511.73,412.07 L512.25,412.00 L512.77,411.93 L513.30,411.86 L513.82,411.79 L514.34,411.73 L514.86,411.67 L515.39,411.62 L515.91,411.57 L516.43,411.53 L516.96,411.48 L517.48,411.44 L518.00,411.40 L518.53,411.36 L519.05,411.31 L519.57,411.25 L520.10,411.18 L520.62,411.09 L521.14,410.98 L521.67,410.82 L522.19,410.62 L522.71,410.35 L523.24,410.04 L523.76,409.69 L524.28,409.31 L524.81,408.91 L525.33,408.49 L525.85,408.04 L526.38,407.56 L526.90,407.04 L527.42,406.50 L527.94,405.95 L528.47,405.41 L528.99,404.90 L529.51,404.41 L530.04,403.96 L530.56,403.52 L531.08,403.09 L531.61,402.68 L532.13,402.28 L532.65,401.91 L533.18,401.57 L533.70,401.30 L534.22,401.09 L534.75,400.95 L535.27,400.87 L535.79,400.85 L536.32,400.86 L536.84,400.89 L537.36,400.94 L537.89,401.02 L538.41,401.14 L538.93,401.31 L539.46,401.53 L539.98,401.78 L540.50,402.05 L541.02,402.31 L541.55,402.54 L542.07,402.71 L542.59,402.82 L543.12,402.83 L543.64,402.75 L544.16,402.56 L544.69,402.29 L545.21,401.94 L545.73,401.53 L546.26,401.07 L546.78,400.59 L547.30,400.09 L547.83,399.57 L548.35,399.04 L548.87,398.45 L549.40,397.81 L549.92,397.11 L550.44,396.40 L550.97,395.71 L551.49,395.09 L552.01,394.60 L552.54,394.26 L553.06,394.09 L553.58,394.10 L554.10,394.26 L554.63,394.53 L555.15,394.90 L555.67,395.34 L556.20,395.88 L556.72,396.52 L557.24,397.26 L557.77,398.09 L558.29,399.00 L558.81,400.00 L559.34,401.07 L559.86,402.24 L560.38,403.47 L560.91,404.75 L561.43,406.03 L561.95,407.30 L562.48,408.53 L563.00,409.72 L563.52,410.85 L564.05,411.90 L564.57,412.86 L565.09,413.75 L565.62,414.54 L566.14,415.24 L566.66,415.86 L567.18,416.41 L567.71,416.91 L568.23,417.37 L568.75,417.80 L569.28,418.22 L569.80,418.63 L570.32,419.03 L570.85,419.39 L571.37,419.68 L571.89,419.89 L572.42,420.04 L572.94,420.13 L573.46,420.20 L573.99,420.25 L574.51,420.29 L575.03,420.33 L575.56,420.36 L576.08,420.39 L576.60,420.42 L577.13,420.45 L577.65,420.48 L578.17,420.51 L578.70,420.54 L579.22,420.57 L579.74,420.59 L580.26,420.62 L580.79,420.65 L581.31,420.67 L581.83,420.70 L582.36,420.72 L582.88,420.74 L583.40,420.77 L583.93,420.79 L584.45,420.81 L584.97,420.83 L585.50,420.85 L586.02,420.88 L586.54,420.90 L587.07,420.92 L587.59,420.94 L588.11,420.96 L588.64,420.98 L589.16,421.00 L589.68,421.02 L590.21,421.05 L590.73,421.07 L591.25,421.09 L591.78,421.11 L592.30,421.14 L592.82,421.16 L593.34,421.19 L593.87,421.21 L594.39,421.24 L594.91,421.26 L595.44,421.29 L595.96,421.31 L596.48,421.34 L597.01,421.37 L597.53,421.39 L598.05,421.42 L598.58,421.44 L599.10,421.47 L599.62,421.49 L600.15,421.52 L600.67,421.54 L601.19,421.57 L601.72,421.59 L602.24,421.62 L602.76,421.64 L603.29,421.66 L603.81,421.68 L604.33,421.70 L604.86,421.72 L605.38,421.74 L605.90,421.76 L606.42,421.78 L606.95,421.80 L607.47,421.81 L607.99,421.83 L608.52,421.84 L609.04,421.85 L609.56,421.86 L610.09,421.88 L610.61,421.89 L611.13,421.90 L611.66,421.91 L612.18,421.91 L612.70,421.92 L613.23,421.93 L613.75,421.94 L614.27,421.95 L614.80,421.96 L615.32,421.96 L615.84,421.97 L616.37,421.98 L616.89,421.99 L617.41,421.99 L617.94,422.00 L618.46,422.01 L618.98,422.01 L619.50,422.02 L620.03,422.02 L620.55,422.03 L621.07,422.04 L621.60,422.04 L622.12,422.05 L622.64,422.05 L623.17,422.06 L623.69,422.06 L624.21,422.07 L624.74,422.08 L625.26,422.08 L625.78,422.09 L626.31,422.09 L626.83,422.10 L627.35,422.10 L627.88,422.11 L628.40,422.12 L628.92,422.12 L629.45,422.13 L629.97,422.13 L630.49,422.14 L631.02,422.15 L631.54,422.15 L632.06,422.16 L632.58,422.17 L633.11,422.17 L633.63,422.18 L634.15,422.19 L634.68,422.20 L635.20,422.20 L635.72,422.21 L636.25,422.22 L636.77,422.23 L637.29,422.23 L637.82,422.24 L638.34,422.25 L638.86,422.26 L639.39,422.26 L639.91,422.27 L640.43,422.28 L640.96,422.29 L641.48,422.29 L642.00,422.30 L642.53,422.31 L643.05,422.32 L643.57,422.32 L644.10,422.33 L644.62,422.34 L645.14,422.35 L645.66,422.36 L646.19,422.36 L646.71,422.37 L647.23,422.38 L647.76,422.39 L648.28,422.40 L648.80,422.40 L649.33,422.41 L649.85,422.42 L650.37,422.43 L650.90,422.43 L651.42,422.44 L651.94,422.45 L652.47,422.46 L652.99,422.47 L653.51,422.47 L654.04,422.48 L654.56,422.49 L655.08,422.50 L655.61,422.51 L656.13,422.51 L656.65,422.52 L657.18,422.53 L657.70,422.54 L658.22,422.54 L658.74,422.55 L659.27,422.56 L659.79,422.57 L660.31,422.58 L660.84,422.58 L661.36,422.59 L661.88,422.60 L662.41,422.61 L662.93,422.62 L663.45,422.62 L663.98,422.63 L664.50,422.63" fill="none" stroke="#000000" stroke-width="1.4" stroke-linejoin="round" stroke-linecap="round"/>
<path d="M402.90,400.68 L403.42,400.72 L403.95,400.76 L404.47,400.82 L404.99,400.87 L405.52,400.93 L406.04,400.99 L406.56,401.05 L407.09,401.11 L407.61,401.17 L408.13,401.22 L408.66,401.27 L409.18,401.31 L409.70,401.35 L410.22,401.38 L410.75,401.40 L411.27,401.40 L411.79,401.39 L412.32,401.35 L412.84,401.28 L413.36,401.18 L413.89,401.04 L414.41,400.88 L414.93,400.70 L415.46,400.49 L415.98,400.27 L416.50,400.03 L417.03,399.79 L417.55,399.54 L418.07,399.29 L418.60,399.04 L419.12,398.80 L419.64,398.56 L420.17,398.33 L420.69,398.10 L421.21,397.86 L421.74,397.61 L422.26,397.36 L422.78,397.11 L423.30,396.87 L423.83,396.63 L424.35,396.41 L424.87,396.21 L425.40,396.02 L425.92,395.84 L426.44,395.67 L426.97,395.52 L427.49,395.38 L428.01,395.27 L428.54,395.20 L429.06,395.20 L429.58,395.30 L430.11,395.50 L430.63,395.81 L431.15,396.20 L431.68,396.64 L432.20,397.09 L432.72,397.54 L433.25,397.99 L433.77,398.43 L434.29,398.88 L434.82,399.32 L435.34,399.76 L435.86,400.16 L436.38,400.54 L436.91,400.90 L437.43,401.23 L437.95,401.55 L438.48,401.86 L439.00,402.15 L439.52,402.44 L440.05,402.71 L440.57,402.98 L441.09,403.23 L441.62,403.47 L442.14,403.70 L442.66,403.92 L443.19,404.12 L443.71,404.32 L444.23,404.50 L444.76,404.67 L445.28,404.84 L445.80,404.99 L446.33,405.14 L446.85,405.28 L447.37,405.41 L447.90,405.53 L448.42,405.65 L448.94,405.76 L449.46,405.87 L449.99,405.97 L450.51,406.08 L451.03,406.18 L451.56,406.27 L452.08,406.35 L452.60,406.42 L453.13,406.47 L453.65,406.48 L454.17,406.46 L454.70,406.38 L455.22,406.25 L455.74,406.06 L456.27,405.83 L456.79,405.54 L457.31,405.20 L457.84,404.77 L458.36,404.25 L458.88,403.62 L459.41,402.87 L459.93,401.97 L460.45,400.92 L460.98,399.68 L461.50,398.28 L462.02,396.74 L462.54,395.08 L463.07,393.31 L463.59,391.44 L464.11,389.51 L464.64,387.56 L465.16,385.63 L465.68,383.72 L466.21,381.78 L466.73,379.77 L467.25,377.61 L467.78,375.26 L468.30,372.67 L468.82,369.82 L469.35,366.74 L469.87,363.44 L470.39,359.96 L470.92,356.30 L471.44,352.47 L471.96,348.43 L472.49,344.18 L473.01,339.72 L473.53,335.03 L474.06,330.12 L474.58,324.98 L475.10,319.60 L475.62,313.98 L476.15,308.09 L476.67,301.92 L477.19,295.52 L477.72,289.19 L478.24,283.39 L478.76,278.61 L479.29,275.15 L479.81,273.19 L480.33,272.76 L480.86,273.74 L481.38,275.97 L481.90,279.35 L482.43,283.81 L482.95,289.14 L483.47,295.02 L484.00,301.12 L484.52,307.29 L485.04,313.48 L485.57,319.69 L486.09,325.89 L486.61,332.05 L487.14,338.18 L487.66,344.31 L488.18,350.45 L488.70,356.54 L489.23,362.43 L489.75,367.91 L490.27,372.78 L490.80,376.89 L491.32,380.23 L491.84,382.91 L492.37,385.19 L492.89,387.30 L493.41,389.51 L493.94,391.93 L494.46,394.60 L494.98,397.41 L495.51,400.19 L496.03,402.79 L496.55,405.11 L497.08,407.14 L497.60,408.92 L498.12,410.53 L498.65,411.98 L499.17,413.28 L499.69,414.43 L500.22,415.43 L500.74,416.30 L501.26,417.06 L501.78,417.72 L502.31,418.31 L502.83,418.84 L503.35,419.30 L503.88,419.70 L504.40,420.05 L504.92,420.36 L505.45,420.64 L505.97,420.90 L506.49,421.14 L507.02,421.36 L507.54,421.55 L508.06,421.71 L508.59,421.83 L509.11,421.92 L509.63,421.96 L510.16,421.97 L510.68,421.94 L511.20,421.89 L511.73,421.81 L512.25,421.72 L512.77,421.61 L513.30,421.50 L513.82,421.38 L514.34,421.26 L514.86,421.14 L515.39,421.03 L515.91,420.94 L516.43,420.85 L516.96,420.78 L517.48,420.72 L518.00,420.66 L518.53,420.62 L519.05,420.57 L519.57,420.54 L520.10,420.50 L520.62,420.47 L521.14,420.44 L521.67,420.41 L522.19,420.37 L522.71,420.34 L523.24,420.30 L523.76,420.26 L524.28,420.22 L524.81,420.17 L525.33,420.12 L525.85,420.05 L526.38,419.98 L526.90,419.89 L527.42,419.77 L527.94,419.61 L528.47,419.39 L528.99,419.12 L529.51,418.80 L530.04,418.43 L530.56,418.02 L531.08,417.57 L531.61,417.10 L532.13,416.59 L532.65,416.04 L533.18,415.42 L533.70,414.73 L534.22,413.98 L534.75,413.18 L535.27,412.36 L535.79,411.52 L536.32,410.68 L536.84,409.81 L537.36,408.92 L537.89,408.03 L538.41,407.20 L538.93,406.48 L539.46,405.90 L539.98,405.48 L540.50,405.20 L541.02,405.00 L541.55,404.85 L542.07,404.74 L542.59,404.66 L543.12,404.62 L543.64,404.64 L544.16,404.75 L544.69,404.96 L545.21,405.26 L545.73,405.61 L546.26,405.99 L546.78,406.36 L547.30,406.71 L547.83,407.04 L548.35,407.31 L548.87,407.49 L549.40,407.52 L549.92,407.39 L550.44,407.07 L550.97,406.59 L551.49,405.98 L552.01,405.28 L552.54,404.52 L553.06,403.74 L553.58,402.93 L554.10,402.09 L554.63,401.21 L555.15,400.30 L555.67,399.37 L556.20,398.47 L556.72,397.63 L557.24,396.85 L557.77,396.14 L558.29,395.51 L558.81,395.00 L559.34,394.67 L559.86,394.59 L560.38,394.81 L560.91,395.32 L561.43,396.07 L561.95,397.02 L562.48,398.16 L563.00,399.46 L563.52,400.87 L564.05,402.35 L564.57,403.86 L565.09,405.37 L565.62,406.87 L566.14,408.35 L566.66,409.79 L567.18,411.20 L567.71,412.56 L568.23,413.85 L568.75,415.06 L569.28,416.19 L569.80,417.25 L570.32,418.24 L570.85,419.15 L571.37,420.00 L571.89,420.80 L572.42,421.55 L572.94,422.25 L573.46,422.90 L573.99,423.51 L574.51,424.08 L575.03,424.59 L575.56,425.05 L576.08,425.44 L576.60,425.75 L577.13,425.97 L577.65,426.11 L578.17,426.17 L578.70,426.19 L579.22,426.20 L579.74,426.20 L580.26,426.20 L580.79,426.20 L581.31,426.20 L581.83,426.20 L582.36,426.20 L582.88,426.20 L583.40,426.20 L583.93,426.20 L584.45,426.20 L584.97,426.20 L585.50,426.20 L586.02,426.20 L586.54,426.20 L587.07,426.20 L587.59,426.20 L588.11,426.20 L588.64,426.20 L589.16,426.20 L589.68,426.20 L590.21,426.20 L590.73,426.20 L591.25,426.20 L591.78,426.20 L592.30,426.20 L592.82,426.20 L593.34,426.20 L593.87,426.20 L594.39,426.20 L594.91,426.20 L595.44,426.20 L595.96,426.20 L596.48,426.20 L597.01,426.20 L597.53,426.20 L598.05,426.20 L598.58,426.20 L599.10,426.20 L599.62,426.20 L600.15,426.20 L600.67,426.20 L601.19,426.20 L601.72,426.20 L602.24,426.20 L602.76,426.20 L603.29,426.20 L603.81,426.20 L604.33,426.20 L604.86,426.20 L605.38,426.20 L605.90,426.20 L606.42,426.20 L606.95,426.20 L607.47,426.20 L607.99,426.20 L608.52,426.20 L609.04,426.20 L609.56,426.20 L610.09,426.20 L610.61,426.20 L611.13,426.20 L611.66,426.20 L612.18,426.20 L612.70,426.20 L613.23,426.20 L613.75,426.20 L614.27,426.20 L614.80,426.20 L615.32,426.20 L615.84,426.20 L616.37,426.20 L616.89,426.20 L617.41,426.20 L617.94,426.20 L618.46,426.20 L618.98,426.20 L619.50,426.20 L620.03,426.20 L620.55,426.20 L621.07,426.20 L621.60,426.20 L622.12,426.20 L622.64,426.20 L623.17,426.20 L623.69,426.20 L624.21,426.20 L624.74,426.20 L625.26,426.20 L625.78,426.20 L626.31,426.20 L626.83,426.20 L627.35,426.20 L627.88,426.20 L628.40,426.20 L628.92,426.20 L629.45,426.20 L629.97,426.20 L630.49,426.20 L631.02,426.20 L631.54,426.20 L632.06,426.20 L632.58,426.20 L633.11,426.20 L633.63,426.20 L634.15,426.20 L634.68,426.20 L635.20,426.20 L635.72,426.20 L636.25,426.20 L636.77,426.20 L637.29,426.20 L637.82,426.20 L638.34,426.20 L638.86,426.20 L639.39,426.20 L639.91,426.20 L640.43,426.20 L640.96,426.20 L641.48,426.20 L642.00,426.20 L642.53,426.20 L643.05,426.20 L643.57,426.20 L644.10,426.20 L644.62,426.20 L645.14,426.20 L645.66,426.20 L646.19,426.20 L646.71,426.20 L647.23,426.20 L647.76,426.20 L648.28,426.20 L648.80,426.20 L649.33,426.20 L649.85,426.20 L650.37,426.20 L650.90,426.20 L651.42,426.20 L651.94,426.20 L652.47,426.20 L652.99,426.20 L653.51,426.20 L654.04,426.20 L654.56,426.20 L655.08,426.20 L655.61,426.20 L656.13,426.20 L656.65,426.20 L657.18,426.20 L657.70,426.20 L658.22,426.20 L658.74,426.20 L659.27,426.20 L659.79,426.20 L660.31,426.20 L660.84,426.20 L661.36,426.20 L661.88,426.20 L662.41,426.20 L662.93,426.20 L663.45,426.20 L663.98,426.20 L664.50,426.20" fill="none" stroke="#1c36f2" stroke-width="1.4" stroke-linejoin="round" stroke-linecap="round"/>
<path d="M402.90,399.92 L403.42,399.96 L403.95,400.02 L404.47,400.09 L404.99,400.16 L405.52,400.24 L406.04,400.31 L406.56,400.39 L407.09,400.47 L407.61,400.54 L408.13,400.62 L408.66,400.68 L409.18,400.75 L409.70,400.80 L410.22,400.85 L410.75,400.89 L411.27,400.92 L411.79,400.93 L412.32,400.91 L412.84,400.86 L413.36,400.76 L413.89,400.61 L414.41,400.41 L414.93,400.17 L415.46,399.91 L415.98,399.65 L416.50,399.37 L417.03,399.10 L417.55,398.83 L418.07,398.55 L418.60,398.25 L419.12,397.95 L419.64,397.64 L420.17,397.33 L420.69,397.02 L421.21,396.71 L421.74,396.41 L422.26,396.12 L422.78,395.82 L423.30,395.53 L423.83,395.24 L424.35,394.95 L424.87,394.66 L425.40,394.39 L425.92,394.12 L426.44,393.86 L426.97,393.62 L427.49,393.38 L428.01,393.14 L428.54,392.90 L429.06,392.67 L429.58,392.43 L430.11,392.22 L430.63,392.02 L431.15,391.85 L431.68,391.72 L432.20,391.64 L432.72,391.63 L433.25,391.69 L433.77,391.85 L434.29,392.08 L434.82,392.37 L435.34,392.69 L435.86,393.03 L436.38,393.37 L436.91,393.71 L437.43,394.06 L437.95,394.42 L438.48,394.78 L439.00,395.14 L439.52,395.49 L440.05,395.81 L440.57,396.11 L441.09,396.39 L441.62,396.64 L442.14,396.86 L442.66,397.08 L443.19,397.28 L443.71,397.48 L444.23,397.66 L444.76,397.84 L445.28,398.02 L445.80,398.19 L446.33,398.36 L446.85,398.52 L447.37,398.68 L447.90,398.83 L448.42,398.97 L448.94,399.10 L449.46,399.22 L449.99,399.33 L450.51,399.44 L451.03,399.54 L451.56,399.64 L452.08,399.72 L452.60,399.79 L453.13,399.83 L453.65,399.86 L454.17,399.87 L454.70,399.88 L455.22,399.88 L455.74,399.88 L456.27,399.88 L456.79,399.87 L457.31,399.84 L457.84,399.78 L458.36,399.66 L458.88,399.48 L459.41,399.23 L459.93,398.93 L460.45,398.58 L460.98,398.18 L461.50,397.71 L462.02,397.16 L462.54,396.51 L463.07,395.73 L463.59,394.81 L464.11,393.74 L464.64,392.52 L465.16,391.15 L465.68,389.63 L466.21,387.97 L466.73,386.19 L467.25,384.34 L467.78,382.43 L468.30,380.45 L468.82,378.35 L469.35,376.08 L469.87,373.54 L470.39,370.68 L470.92,367.46 L471.44,363.90 L471.96,360.03 L472.49,355.92 L473.01,351.59 L473.53,347.03 L474.06,342.24 L474.58,337.25 L475.10,332.13 L475.62,326.97 L476.15,321.86 L476.67,316.83 L477.19,311.90 L477.72,307.04 L478.24,302.26 L478.76,297.56 L479.29,293.00 L479.81,288.62 L480.33,284.46 L480.86,280.52 L481.38,276.85 L481.90,273.50 L482.43,270.59 L482.95,268.19 L483.47,266.35 L484.00,265.09 L484.52,264.50 L485.04,264.67 L485.57,265.65 L486.09,267.44 L486.61,270.06 L487.14,273.53 L487.66,277.75 L488.18,282.55 L488.70,287.75 L489.23,293.25 L489.75,299.03 L490.27,304.99 L490.80,311.06 L491.32,317.16 L491.84,323.22 L492.37,329.16 L492.89,334.94 L493.41,340.55 L493.94,346.00 L494.46,351.32 L494.98,356.50 L495.51,361.48 L496.03,366.22 L496.55,370.70 L497.08,374.88 L497.60,378.76 L498.12,382.30 L498.65,385.49 L499.17,388.35 L499.69,390.87 L500.22,393.05 L500.74,394.93 L501.26,396.53 L501.78,397.96 L502.31,399.31 L502.83,400.69 L503.35,402.20 L503.88,403.85 L504.40,405.60 L504.92,407.32 L505.45,408.88 L505.97,410.22 L506.49,411.35 L507.02,412.32 L507.54,413.17 L508.06,413.92 L508.59,414.58 L509.11,415.14 L509.63,415.62 L510.16,416.03 L510.68,416.40 L511.20,416.73 L511.73,417.04 L512.25,417.32 L512.77,417.56 L513.30,417.76 L513.82,417.92 L514.34,418.03 L514.86,418.10 L515.39,418.13 L515.91,418.14 L516.43,418.14 L516.96,418.13 L517.48,418.12 L518.00,418.11 L518.53,418.10 L519.05,418.08 L519.57,418.07 L520.10,418.05 L520.62,418.04 L521.14,418.02 L521.67,418.00 L522.19,417.99 L522.71,417.97 L523.24,417.95 L523.76,417.93 L524.28,417.91 L524.81,417.89 L525.33,417.87 L525.85,417.84 L526.38,417.81 L526.90,417.78 L527.42,417.75 L527.94,417.71 L528.47,417.66 L528.99,417.61 L529.51,417.55 L530.04,417.47 L530.56,417.36 L531.08,417.21 L531.61,417.01 L532.13,416.78 L532.65,416.49 L533.18,416.15 L533.70,415.73 L534.22,415.19 L534.75,414.48 L535.27,413.60 L535.79,412.64 L536.32,411.71 L536.84,410.89 L537.36,410.19 L537.89,409.60 L538.41,409.06 L538.93,408.53 L539.46,407.97 L539.98,407.35 L540.50,406.68 L541.02,405.97 L541.55,405.27 L542.07,404.60 L542.59,403.98 L543.12,403.40 L543.64,402.89 L544.16,402.46 L544.69,402.14 L545.21,401.96 L545.73,401.90 L546.26,401.96 L546.78,402.09 L547.30,402.27 L547.83,402.46 L548.35,402.66 L548.87,402.86 L549.40,403.06 L549.92,403.26 L550.44,403.42 L550.97,403.55 L551.49,403.59 L552.01,403.52 L552.54,403.31 L553.06,402.96 L553.58,402.47 L554.10,401.89 L554.63,401.24 L555.15,400.54 L555.67,399.81 L556.20,399.02 L556.72,398.17 L557.24,397.26 L557.77,396.32 L558.29,395.39 L558.81,394.52 L559.34,393.72 L559.86,393.01 L560.38,392.38 L560.91,391.80 L561.43,391.26 L561.95,390.78 L562.48,390.39 L563.00,390.11 L563.52,389.99 L564.05,390.11 L564.57,390.50 L565.09,391.14 L565.62,392.00 L566.14,392.98 L566.66,394.05 L567.18,395.21 L567.71,396.46 L568.23,397.81 L568.75,399.27 L569.28,400.85 L569.80,402.51 L570.32,404.21 L570.85,405.88 L571.37,407.48 L571.89,408.98 L572.42,410.41 L572.94,411.76 L573.46,413.04 L573.99,414.25 L574.51,415.37 L575.03,416.40 L575.56,417.34 L576.08,418.22 L576.60,419.02 L577.13,419.75 L577.65,420.41 L578.17,421.01 L578.70,421.54 L579.22,422.02 L579.74,422.45 L580.26,422.86 L580.79,423.23 L581.31,423.57 L581.83,423.90 L582.36,424.22 L582.88,424.51 L583.40,424.78 L583.93,425.02 L584.45,425.22 L584.97,425.38 L585.50,425.50 L586.02,425.60 L586.54,425.69 L587.07,425.76 L587.59,425.82 L588.11,425.88 L588.64,425.94 L589.16,426.00 L589.68,426.05 L590.21,426.10 L590.73,426.15 L591.25,426.18 L591.78,426.19 L592.30,426.20 L592.82,426.20 L593.34,426.20 L593.87,426.20 L594.39,426.20 L594.91,426.20 L595.44,426.20 L595.96,426.20 L596.48,426.20 L597.01,426.20 L597.53,426.20 L598.05,426.20 L598.58,426.20 L599.10,426.20 L599.62,426.20 L600.15,426.20 L600.67,426.20 L601.19,426.20 L601.72,426.20 L602.24,426.20 L602.76,426.20 L603.29,426.20 L603.81,426.20 L604.33,426.20 L604.86,426.20 L605.38,426.20 L605.90,426.20 L606.42,426.20 L606.95,426.20 L607.47,426.20 L607.99,426.20 L608.52,426.20 L609.04,426.20 L609.56,426.20 L610.09,426.20 L610.61,426.20 L611.13,426.20 L611.66,426.20 L612.18,426.20 L612.70,426.20 L613.23,426.20 L613.75,426.20 L614.27,426.20 L614.80,426.20 L615.32,426.20 L615.84,426.20 L616.37,426.20 L616.89,426.20 L617.41,426.20 L617.94,426.20 L618.46,426.20 L618.98,426.20 L619.50,426.20 L620.03,426.20 L620.55,426.20 L621.07,426.20 L621.60,426.20 L622.12,426.20 L622.64,426.20 L623.17,426.20 L623.69,426.20 L624.21,426.20 L624.74,426.20 L625.26,426.20 L625.78,426.20 L626.31,426.20 L626.83,426.20 L627.35,426.20 L627.88,426.20 L628.40,426.20 L628.92,426.20 L629.45,426.20 L629.97,426.20 L630.49,426.20 L631.02,426.20 L631.54,426.20 L632.06,426.20 L632.58,426.20 L633.11,426.20 L633.63,426.20 L634.15,426.20 L634.68,426.20 L635.20,426.20 L635.72,426.20 L636.25,426.20 L636.77,426.20 L637.29,426.20 L637.82,426.20 L638.34,426.20 L638.86,426.20 L639.39,426.20 L639.91,426.20 L640.43,426.20 L640.96,426.20 L641.48,426.20 L642.00,426.20 L642.53,426.20 L643.05,426.20 L643.57,426.20 L644.10,426.20 L644.62,426.20 L645.14,426.20 L645.66,426.20 L646.19,426.20 L646.71,426.20 L647.23,426.20 L647.76,426.20 L648.28,426.20 L648.80,426.20 L649.33,426.20 L649.85,426.20 L650.37,426.20 L650.90,426.20 L651.42,426.20 L651.94,426.20 L652.47,426.20 L652.99,426.20 L653.51,426.20 L654.04,426.20 L654.56,426.20 L655.08,426.20 L655.61,426.20 L656.13,426.20 L656.65,426.20 L657.18,426.20 L657.70,426.20 L658.22,426.20 L658.74,426.20 L659.27,426.20 L659.79,426.20 L660.31,426.20 L660.84,426.20 L661.36,426.20 L661.88,426.20 L662.41,426.20 L662.93,426.20 L663.45,426.20 L663.98,426.20 L664.50,426.20" fill="none" stroke="#ee2b2b" stroke-width="1.4" stroke-linejoin="round" stroke-linecap="round"/>
<path d="M402.50,240.40 L402.50,426.50" fill="none" stroke="#8a8a8a" stroke-width="1.3"/>
<path d="M401.85,426.50 L664.50,426.50" fill="none" stroke="#333" stroke-width="1.3"/>
<path d="M402.90,395.50 h2.30" stroke="#111" stroke-width="1"/>
<path d="M402.90,364.50 h2.30" stroke="#111" stroke-width="1"/>
<path d="M402.90,333.50 h2.30" stroke="#111" stroke-width="1"/>
<path d="M402.90,302.50 h2.30" stroke="#111" stroke-width="1"/>
<path d="M402.90,271.50 h2.30" stroke="#111" stroke-width="1"/>
<path d="M402.90,240.50 h2.30" stroke="#111" stroke-width="1"/>
<path d="M413.50,426.20 v-2.30" stroke="#111" stroke-width="1"/>
<path d="M423.50,426.20 v-2.30" stroke="#111" stroke-width="1"/>
<path d="M434.50,426.20 v-2.30" stroke="#111" stroke-width="1"/>
<path d="M444.50,426.20 v-2.30" stroke="#111" stroke-width="1"/>
<path d="M455.50,426.20 v-2.30" stroke="#111" stroke-width="1"/>
<path d="M465.50,426.20 v-2.30" stroke="#111" stroke-width="1"/>
<path d="M476.50,426.20 v-2.30" stroke="#111" stroke-width="1"/>
<path d="M486.50,426.20 v-2.30" stroke="#111" stroke-width="1"/>
<path d="M497.50,426.20 v-2.30" stroke="#111" stroke-width="1"/>
<path d="M507.50,426.20 v-2.30" stroke="#111" stroke-width="1"/>
<path d="M518.50,426.20 v-2.30" stroke="#111" stroke-width="1"/>
<path d="M528.50,426.20 v-2.30" stroke="#111" stroke-width="1"/>
<path d="M538.50,426.20 v-2.30" stroke="#111" stroke-width="1"/>
<path d="M549.50,426.20 v-2.30" stroke="#111" stroke-width="1"/>
<path d="M559.50,426.20 v-2.30" stroke="#111" stroke-width="1"/>
<path d="M570.50,426.20 v-2.30" stroke="#111" stroke-width="1"/>
<path d="M580.50,426.20 v-2.30" stroke="#111" stroke-width="1"/>
<path d="M591.50,426.20 v-2.30" stroke="#111" stroke-width="1"/>
<path d="M601.50,426.20 v-2.30" stroke="#111" stroke-width="1"/>
<path d="M612.50,426.20 v-2.30" stroke="#111" stroke-width="1"/>
<path d="M622.50,426.20 v-2.30" stroke="#111" stroke-width="1"/>
<path d="M633.50,426.20 v-2.30" stroke="#111" stroke-width="1"/>
<path d="M643.50,426.20 v-2.30" stroke="#111" stroke-width="1"/>
<path d="M654.50,426.20 v-2.30" stroke="#111" stroke-width="1"/>
<path d="M664.50,426.20 v-2.30" stroke="#111" stroke-width="1"/>
<path d="M402.50,240.40 V426.50" stroke="#8a8a8a" stroke-width="1.7"/>
<path d="M433.77,391.98 L434.50,386.56 L435.13,394.61 L435.76,393.38" fill="none" stroke="#000" stroke-width="1.3" stroke-linejoin="round"/>
<path d="M498.96,410.10 L499.54,407.31 L500.01,411.80 L500.74,412.26" fill="none" stroke="#000" stroke-width="1.3" stroke-linejoin="round"/>
<path d="M571.11,419.54 L571.68,417.68 L572.21,420.32 L572.94,420.47" fill="none" stroke="#000" stroke-width="1.3" stroke-linejoin="round"/>
<path d="M588.90,424.03 V419.23" stroke="#000" stroke-width="1.3"/>
<path d="M534.1,288.60 H545.2" stroke="#000000" stroke-width="1.4"/><text x="545.8" y="291.10" font-size="8.2" textLength="10.40" lengthAdjust="spacingAndGlyphs"><tspan>H</tspan><tspan font-size="5.58" dy="1.80">8</tspan></text>
<path d="M534.1,302.40 H545.2" stroke="#1c36f2" stroke-width="1.4"/><text x="545.8" y="304.70" font-size="8.2" textLength="12.30" lengthAdjust="spacingAndGlyphs"><tspan>Cl</tspan><tspan font-size="5.58" dy="1.80">8</tspan></text>
<path d="M534.1,316.00 H545.2" stroke="#ee2b2b" stroke-width="1.4"/><text x="545.8" y="318.10" font-size="8.2" textLength="12.60" lengthAdjust="spacingAndGlyphs"><tspan>Br</tspan><tspan font-size="5.58" dy="1.80">8</tspan></text>
</svg>
</body></html>
